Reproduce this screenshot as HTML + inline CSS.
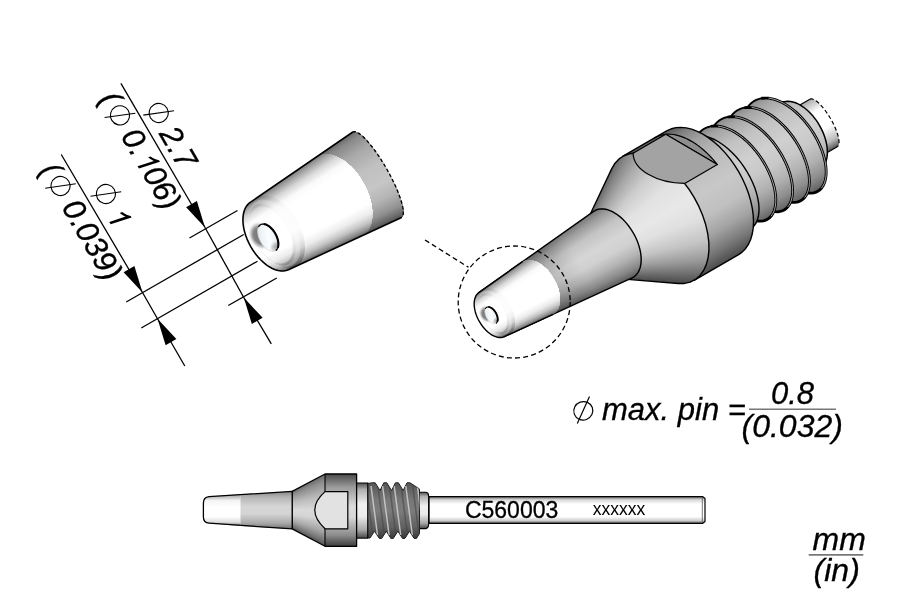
<!DOCTYPE html>
<html><head><meta charset="utf-8"><title>C560003</title>
<style>html,body{margin:0;padding:0;background:#fff;}svg{display:block;}</style>
</head><body>
<svg width="900" height="600" viewBox="0 0 900 600" style="will-change:transform">
<rect width="900" height="600" fill="#fff"/>
<defs>
<linearGradient id="gBody" gradientUnits="userSpaceOnUse" x1="0" y1="-71.5" x2="0" y2="71.5"><stop offset="0" stop-color="#5a5a5a"/><stop offset="0.06" stop-color="#808080"/><stop offset="0.15" stop-color="#a0a0a0"/><stop offset="0.3" stop-color="#bcbcbc"/><stop offset="0.5" stop-color="#c8c8c8"/><stop offset="0.65" stop-color="#c0c0c0"/><stop offset="0.78" stop-color="#a4a4a4"/><stop offset="0.9" stop-color="#787878"/><stop offset="1" stop-color="#4c4c4c"/></linearGradient>
<linearGradient id="gFlare" gradientUnits="userSpaceOnUse" x1="0" y1="-71.5" x2="0" y2="71.5"><stop offset="0" stop-color="#666"/><stop offset="0.06" stop-color="#868686"/><stop offset="0.15" stop-color="#aaa"/><stop offset="0.26" stop-color="#cdcdcd"/><stop offset="0.38" stop-color="#e2e2e2"/><stop offset="0.5" stop-color="#e8e8e8"/><stop offset="0.6" stop-color="#e0e0e0"/><stop offset="0.72" stop-color="#c4c4c4"/><stop offset="0.82" stop-color="#9c9c9c"/><stop offset="0.92" stop-color="#6c6c6c"/><stop offset="1" stop-color="#484848"/></linearGradient>
<linearGradient id="gCone" gradientUnits="userSpaceOnUse" x1="0" y1="-38.5" x2="0" y2="38.5"><stop offset="0" stop-color="#777"/><stop offset="0.1" stop-color="#9c9c9c"/><stop offset="0.25" stop-color="#c4c4c4"/><stop offset="0.45" stop-color="#d6d6d6"/><stop offset="0.6" stop-color="#d0d0d0"/><stop offset="0.75" stop-color="#b4b4b4"/><stop offset="0.9" stop-color="#888"/><stop offset="1" stop-color="#5c5c5c"/></linearGradient>
<linearGradient id="gTipW" gradientUnits="userSpaceOnUse" x1="0" y1="-38.5" x2="0" y2="38.5"><stop offset="0" stop-color="#8a8a8a"/><stop offset="0.2" stop-color="#e0e0e0"/><stop offset="0.35" stop-color="#fff"/><stop offset="0.65" stop-color="#fff"/><stop offset="0.85" stop-color="#cfcfcf"/><stop offset="1" stop-color="#666"/></linearGradient>
<linearGradient id="gThread" gradientUnits="userSpaceOnUse" x1="0" y1="-57.5" x2="0" y2="57.5"><stop offset="0" stop-color="#808080"/><stop offset="0.1" stop-color="#a4a4a4"/><stop offset="0.25" stop-color="#c2c2c2"/><stop offset="0.45" stop-color="#d0d0d0"/><stop offset="0.6" stop-color="#c8c8c8"/><stop offset="0.75" stop-color="#b0b0b0"/><stop offset="0.88" stop-color="#8c8c8c"/><stop offset="1" stop-color="#585858"/></linearGradient>
<linearGradient id="gShaft" gradientUnits="userSpaceOnUse" x1="0" y1="-27.4" x2="0" y2="27.4"><stop offset="0" stop-color="#aaa"/><stop offset="0.25" stop-color="#fff"/><stop offset="0.6" stop-color="#fff"/><stop offset="0.85" stop-color="#bbb"/><stop offset="1" stop-color="#555"/></linearGradient>
<linearGradient id="gBand" gradientUnits="userSpaceOnUse" x1="45" y1="0" x2="100" y2="0"><stop offset="0" stop-color="#000" stop-opacity="0.2"/><stop offset="0.35" stop-color="#000" stop-opacity="0.15"/><stop offset="1" stop-color="#000" stop-opacity="0"/></linearGradient>
<linearGradient id="gDWM" gradientUnits="userSpaceOnUse" x1="0" y1="-32.38" x2="0" y2="32.38"><stop offset="0" stop-color="#7c7c7c"/><stop offset="0.05" stop-color="#a4a4a4"/><stop offset="0.13" stop-color="#d8d8d8"/><stop offset="0.22" stop-color="#fafafa"/><stop offset="0.3" stop-color="#fff"/><stop offset="0.72" stop-color="#fff"/><stop offset="0.82" stop-color="#ececec"/><stop offset="0.9" stop-color="#c4c4c4"/><stop offset="0.96" stop-color="#909090"/><stop offset="1" stop-color="#606060"/></linearGradient>
<linearGradient id="gRingM" gradientUnits="userSpaceOnUse" x1="0" y1="-25.5" x2="0" y2="25.5"><stop offset="0" stop-color="#000" stop-opacity="0.08"/><stop offset="0.25" stop-color="#000" stop-opacity="0.015"/><stop offset="0.6" stop-color="#000" stop-opacity="0.01"/><stop offset="0.82" stop-color="#000" stop-opacity="0.10"/><stop offset="1" stop-color="#000" stop-opacity="0.28"/></linearGradient>
<linearGradient id="gHoleM" x1="0" y1="0" x2="1" y2="0.7"><stop offset="0" stop-color="#d4d7d9"/><stop offset="0.3" stop-color="#eef3f6"/><stop offset="0.6" stop-color="#fbfdfe"/><stop offset="0.85" stop-color="#f0f3f5"/><stop offset="1" stop-color="#d0d3d5"/></linearGradient>
<radialGradient id="gHoleShM" cx="0.5" cy="0.5" r="0.5"><stop offset="0" stop-color="#666" stop-opacity="0.95"/><stop offset="0.6" stop-color="#747474" stop-opacity="0.88"/><stop offset="0.8" stop-color="#999" stop-opacity="0.5"/><stop offset="1" stop-color="#ddd" stop-opacity="0"/></radialGradient>
<radialGradient id="gHoleInM" cx="0.5" cy="0.5" r="0.5"><stop offset="0" stop-color="#777" stop-opacity="0.7"/><stop offset="0.6" stop-color="#999" stop-opacity="0.4"/><stop offset="1" stop-color="#ccc" stop-opacity="0"/></radialGradient>
<linearGradient id="gDWD" gradientUnits="userSpaceOnUse" x1="0" y1="-49.28" x2="0" y2="49.28"><stop offset="0" stop-color="#7c7c7c"/><stop offset="0.05" stop-color="#a4a4a4"/><stop offset="0.13" stop-color="#d8d8d8"/><stop offset="0.22" stop-color="#fafafa"/><stop offset="0.3" stop-color="#fff"/><stop offset="0.72" stop-color="#fff"/><stop offset="0.82" stop-color="#ececec"/><stop offset="0.9" stop-color="#c4c4c4"/><stop offset="0.96" stop-color="#909090"/><stop offset="1" stop-color="#606060"/></linearGradient>
<linearGradient id="gDGD" gradientUnits="userSpaceOnUse" x1="0" y1="-49.28" x2="0" y2="49.28"><stop offset="0" stop-color="#6a6a6a"/><stop offset="0.06" stop-color="#888"/><stop offset="0.2" stop-color="#a8a8a8"/><stop offset="0.4" stop-color="#c0c0c0"/><stop offset="0.6" stop-color="#c6c6c6"/><stop offset="0.75" stop-color="#b4b4b4"/><stop offset="0.88" stop-color="#929292"/><stop offset="0.96" stop-color="#6a6a6a"/><stop offset="1" stop-color="#505050"/></linearGradient>
<linearGradient id="gRingD" gradientUnits="userSpaceOnUse" x1="0" y1="-38.8" x2="0" y2="38.8"><stop offset="0" stop-color="#000" stop-opacity="0.08"/><stop offset="0.25" stop-color="#000" stop-opacity="0.015"/><stop offset="0.6" stop-color="#000" stop-opacity="0.01"/><stop offset="0.82" stop-color="#000" stop-opacity="0.10"/><stop offset="1" stop-color="#000" stop-opacity="0.28"/></linearGradient>
<linearGradient id="gHoleD" x1="0" y1="0" x2="1" y2="0.7"><stop offset="0" stop-color="#d4d7d9"/><stop offset="0.3" stop-color="#eef3f6"/><stop offset="0.6" stop-color="#fbfdfe"/><stop offset="0.85" stop-color="#f0f3f5"/><stop offset="1" stop-color="#d0d3d5"/></linearGradient>
<radialGradient id="gHoleShD" cx="0.5" cy="0.5" r="0.5"><stop offset="0" stop-color="#666" stop-opacity="0.95"/><stop offset="0.6" stop-color="#747474" stop-opacity="0.88"/><stop offset="0.8" stop-color="#999" stop-opacity="0.5"/><stop offset="1" stop-color="#ddd" stop-opacity="0"/></radialGradient>
<radialGradient id="gHoleInD" cx="0.5" cy="0.5" r="0.5"><stop offset="0" stop-color="#777" stop-opacity="0.7"/><stop offset="0.6" stop-color="#999" stop-opacity="0.4"/><stop offset="1" stop-color="#ccc" stop-opacity="0"/></radialGradient>
<linearGradient id="sBody" x1="0" y1="0" x2="0" y2="1"><stop offset="0" stop-color="#4a4a4a"/><stop offset="0.18" stop-color="#9a9a9a"/><stop offset="0.45" stop-color="#dcdcdc"/><stop offset="0.6" stop-color="#d6d6d6"/><stop offset="0.85" stop-color="#8a8a8a"/><stop offset="1" stop-color="#3c3c3c"/></linearGradient>
<linearGradient id="sCone" x1="0" y1="0" x2="0" y2="1"><stop offset="0" stop-color="#858585"/><stop offset="0.15" stop-color="#b4b4b4"/><stop offset="0.4" stop-color="#d6d6d6"/><stop offset="0.6" stop-color="#d4d4d4"/><stop offset="0.85" stop-color="#a8a8a8"/><stop offset="1" stop-color="#707070"/></linearGradient>
<linearGradient id="sNeck" x1="0" y1="0" x2="0" y2="1"><stop offset="0" stop-color="#505050"/><stop offset="0.12" stop-color="#b0b0b0"/><stop offset="0.38" stop-color="#f0f0f0"/><stop offset="0.6" stop-color="#ececec"/><stop offset="0.85" stop-color="#a8a8a8"/><stop offset="1" stop-color="#444"/></linearGradient>
<linearGradient id="sWhite" x1="0" y1="0" x2="0" y2="1"><stop offset="0" stop-color="#999"/><stop offset="0.2" stop-color="#f4f4f4"/><stop offset="0.4" stop-color="#fff"/><stop offset="0.7" stop-color="#fff"/><stop offset="0.88" stop-color="#ddd"/><stop offset="1" stop-color="#777"/></linearGradient>
<linearGradient id="sShaft" x1="0" y1="0" x2="0" y2="1"><stop offset="0" stop-color="#666"/><stop offset="0.12" stop-color="#d8d8d8"/><stop offset="0.28" stop-color="#fff"/><stop offset="0.75" stop-color="#fff"/><stop offset="0.9" stop-color="#ccc"/><stop offset="1" stop-color="#555"/></linearGradient>
<linearGradient id="sThread" x1="0" y1="0" x2="0" y2="1"><stop offset="0" stop-color="#555"/><stop offset="0.3" stop-color="#777"/><stop offset="0.5" stop-color="#7c7c7c"/><stop offset="0.8" stop-color="#606060"/><stop offset="1" stop-color="#3a3a3a"/></linearGradient>
<linearGradient id="sFl" gradientUnits="userSpaceOnUse" x1="0" y1="-36.2" x2="0" y2="36.2"><stop offset="0" stop-color="#6a6a6a"/><stop offset="0.1" stop-color="#8e8e8e"/><stop offset="0.3" stop-color="#bcbcbc"/><stop offset="0.5" stop-color="#dadada"/><stop offset="0.62" stop-color="#d4d4d4"/><stop offset="0.8" stop-color="#a6a6a6"/><stop offset="0.92" stop-color="#787878"/><stop offset="1" stop-color="#505050"/></linearGradient>
</defs>
<g transform="translate(493.1 313.75) rotate(-30)"><path d="M381.6 -27.4 L382.52 -27.23 L383.43 -26.71 L384.31 -25.86 L385.17 -24.69 L385.97 -23.2 L386.73 -21.42 L387.41 -19.37 L388.03 -17.08 L388.56 -14.58 L389.01 -11.89 L389.36 -9.05 L389.61 -6.1 L389.77 -3.07 L389.82 -0 L389.77 3.07 L389.61 6.1 L389.36 9.05 L389.01 11.89 L388.56 14.58 L388.03 17.08 L387.41 19.37 L386.73 21.42 L385.97 23.2 L385.17 24.69 L384.31 25.86 L383.43 26.71 L382.52 27.23 L381.6 27.4 L354.5 27.4 L352.72 27.23 L350.96 26.71 L349.25 25.86 L347.6 24.69 L346.04 23.2 L344.59 21.42 L343.26 19.37 L342.08 17.08 L341.04 14.58 L340.18 11.89 L339.5 9.05 L339.01 6.1 L338.71 3.07 L338.61 0 L338.71 -3.07 L339.01 -6.1 L339.5 -9.05 L340.18 -11.89 L341.04 -14.58 L342.08 -17.08 L343.26 -19.37 L344.59 -21.42 L346.04 -23.2 L347.6 -24.69 L349.25 -25.86 L350.96 -26.71 L352.72 -27.23 L354.5 -27.4Z" fill="url(#gShaft)"/><path d="M354.5 -27.4 L381.6 -27.4 M354.5 27.4 L381.6 27.4" fill="none" stroke="#000" stroke-width="1.2"/><path d="M381.6 -27.4 L382.52 -27.23 L383.43 -26.71 L384.31 -25.86 L385.17 -24.69 L385.97 -23.2 L386.73 -21.42 L387.41 -19.37 L388.03 -17.08 L388.56 -14.58 L389.01 -11.89 L389.36 -9.05 L389.61 -6.1 L389.77 -3.07 L389.82 -0 L389.77 3.07 L389.61 6.1 L389.36 9.05 L389.01 11.89 L388.56 14.58 L388.03 17.08 L387.41 19.37 L386.73 21.42 L385.97 23.2 L385.17 24.69 L384.31 25.86 L383.43 26.71 L382.52 27.23 L381.6 27.4" fill="none" stroke="#000" stroke-width="1.2" stroke-dasharray="4 2.5"/><path d="M359.55 -37.5 L361.61 -36.5 L363.61 -35.15 L365.52 -33.49 L367.33 -31.52 L369.02 -29.25 L370.57 -26.72 L371.98 -23.95 L373.23 -20.95 L374.31 -17.76 L375.21 -14.41 L375.91 -10.92 L376.42 -7.34 L376.73 -3.69 L376.83 -0 L376.73 3.69 L376.42 7.34 L375.91 10.92 L375.21 14.41 L374.31 17.76 L373.23 20.95 L371.98 23.95 L370.57 26.72 L369.02 29.25 L367.33 31.52 L365.52 33.49 L363.61 35.15 L361.61 36.5 L359.55 37.5 L346.17 42.86 L342.94 43.78 L339.67 43.98 L336.4 43.46 L333.21 42.22 L330.13 40.28 L327.22 37.68 L324.53 34.45 L322.1 30.66 L319.97 26.36 L318.18 21.63 L316.75 16.55 L315.72 11.18 L315.09 5.64 L314.88 0 L315.09 -5.64 L315.72 -11.18 L316.75 -16.55 L318.18 -21.63 L319.97 -26.36 L322.1 -30.66 L324.53 -34.45 L327.22 -37.68 L330.13 -40.28 L333.21 -42.22 L336.4 -43.46 L339.67 -43.98 L342.94 -43.78 L346.17 -42.86Z" fill="url(#gThread)" stroke="none" /><path d="M346.17 -42.86 L359.55 -37.5 M359.55 37.5 L346.17 42.86 M359.55 -37.5 L361.61 -36.5 L363.61 -35.15 L365.52 -33.49 L367.33 -31.52 L369.02 -29.25 L370.57 -26.72 L371.98 -23.95 L373.23 -20.95 L374.31 -17.76 L375.21 -14.41 L375.91 -10.92 L376.42 -7.34 L376.73 -3.69 L376.83 -0 L376.73 3.69 L376.42 7.34 L375.91 10.92 L375.21 14.41 L374.31 17.76 L373.23 20.95 L371.98 23.95 L370.57 26.72 L369.02 29.25 L367.33 31.52 L365.52 33.49 L363.61 35.15 L361.61 36.5 L359.55 37.5" fill="none" stroke="#000" stroke-width="1.5" stroke-linecap="round" stroke-linejoin="round"/><path d="M311.38 -40.85 L314.46 -44.58 L317.74 -47.73 L321.2 -50.24 L324.8 -52.09 L328.48 -53.25 L332.22 -53.71 L335.97 -53.47 L339.68 -52.52 L343.31 -50.88 L346.81 -48.57 L350.15 -45.62 L353.3 -42.06 L356.2 -37.95 L358.83 -33.33 L361.17 -28.27 L363.18 -22.83 L364.84 -17.08 L366.14 -11.09 L367.06 -4.95 L367.6 1.28 L367.75 7.51 L367.52 13.65 L366.92 19.64 L365.95 25.39 L364.64 30.83 L362.99 35.89 L361.05 40.51 L358.84 44.62 L356.39 48.18 L353.75 51.13 L350.93 53.44 L348 55.08 L344.98 56.03 L341.93 56.27 L338.88 55.81 L335.89 54.65 L332.99 52.8 L330.22 50.29 L327.63 47.14 L325.25 43.41 L306.05 43.09 L308.43 46.82 L311.02 49.97 L313.79 52.48 L316.69 54.33 L319.68 55.49 L322.73 55.95 L325.78 55.71 L328.8 54.76 L331.73 53.12 L334.55 50.81 L337.19 47.86 L339.64 44.3 L341.85 40.19 L343.79 35.57 L345.44 30.51 L346.75 25.07 L347.72 19.32 L348.32 13.33 L348.55 7.19 L348.4 0.96 L347.86 -5.27 L346.94 -11.41 L345.64 -17.4 L343.98 -23.15 L341.97 -28.59 L339.63 -33.65 L337 -38.27 L334.1 -42.38 L330.95 -45.94 L327.61 -48.89 L324.11 -51.2 L320.48 -52.84 L316.77 -53.79 L313.02 -54.03 L309.28 -53.57 L305.6 -52.41 L302 -50.56 L298.54 -48.05 L295.26 -44.9 L292.18 -41.17Z" fill="url(#gThread)"/><path d="M311.38 -40.85 L312.02 -41.7 L312.68 -42.53 L313.34 -43.33 L314.02 -44.1 L314.7 -44.85 L315.4 -45.56 L316.1 -46.26 L316.81 -46.92 L317.53 -47.55 L318.26 -48.15 L319 -48.73 L319.74 -49.27 L320.5 -49.79 L321.25 -50.27 L322.02 -50.72 L322.79 -51.15 L323.57 -51.54 L324.35 -51.9 L325.13 -52.22 L325.92 -52.52 L326.72 -52.78 L327.51 -53.01 L328.31 -53.21 L329.11 -53.38 L329.92 -53.51 L330.72 -53.61 L331.53 -53.68 L332.34 -53.71 L333.15 -53.72 L333.95 -53.69 L334.76 -53.62 L335.57 -53.53 L336.37 -53.4 L337.17 -53.24 L337.97 -53.04 L338.77 -52.82 L339.56 -52.56 L340.35 -52.27 L341.14 -51.94 L341.92 -51.59" fill="none" stroke="#000" stroke-width="1.9" stroke-linecap="round"/><path d="M340.8 -52.09 L343.58 -50.72 L346.28 -48.97 L348.89 -46.82 L351.39 -44.32 L353.76 -41.46 L355.99 -38.28 L358.05 -34.8 L359.95 -31.05 L361.66 -27.05 L363.18 -22.83 L364.49 -18.43 L365.58 -13.88 L366.46 -9.21 L367.12 -4.47 L367.54 0.32 L367.74 5.12 L367.71 9.88 L367.46 14.59 L366.98 19.19 L366.29 23.65 L365.39 27.94 L364.28 32.04 L362.99 35.89 L361.53 39.49 L359.9 42.79 L358.11 45.78 L356.2 48.42 L354.16 50.71 L352.03 52.63 L349.82 54.15 L347.54 55.27 L345.22 55.98 L342.87 56.27 L340.52 56.15 L338.19 55.6 L335.89 54.65 L333.65 53.28 L331.48 51.53 L329.4 49.38 L327.44 46.88" fill="none" stroke="#000" stroke-width="2.8" stroke-linecap="round"/><path d="M346.28 -48.97 L348.2 -47.44 L350.05 -45.72 L351.85 -43.8 L353.58 -41.7 L355.22 -39.43 L356.79 -37 L358.27 -34.4 L359.66 -31.67 L360.95 -28.8 L362.14 -25.8 L363.22 -22.7 L364.19 -19.5 L365.05 -16.22 L365.8 -12.86 L366.42 -9.45 L366.93 -5.99 L367.32 -2.51 L367.58 0.99 L367.73 4.49 L367.75 7.98 L367.65 11.44 L367.43 14.86 L367.1 18.23 L366.65 21.53 L366.08 24.74 L365.41 27.86 L364.62 30.87 L363.74 33.76 L362.76 36.52 L361.68 39.14 L360.52 41.6 L359.27 43.9 L357.95 46.03 L356.55 47.97 L355.09 49.73 L353.58 51.29 L352.01 52.64 L350.4 53.79 L348.75 54.73 L347.08 55.44" fill="none" stroke="#c4c4c4" stroke-width="0.75"/><path d="M292.18 -41.17 L295.26 -44.9 L298.54 -48.05 L302 -50.56 L305.6 -52.41 L309.28 -53.57 L313.02 -54.03 L316.77 -53.79 L320.48 -52.84 L324.11 -51.2 L327.61 -48.89 L330.95 -45.94 L334.1 -42.38 L337 -38.27 L339.63 -33.65 L341.97 -28.59 L343.98 -23.15 L345.64 -17.4 L346.94 -11.41 L347.86 -5.27 L348.4 0.96 L348.55 7.19 L348.32 13.33 L347.72 19.32 L346.75 25.07 L345.44 30.51 L343.79 35.57 L341.85 40.19 L339.64 44.3 L337.19 47.86 L334.55 50.81 L331.73 53.12 L328.8 54.76 L325.78 55.71 L322.73 55.95 L319.68 55.49 L316.69 54.33 L313.79 52.48 L311.02 49.97 L308.43 46.82 L306.05 43.09 L286.85 42.77 L289.23 46.5 L291.82 49.65 L294.59 52.16 L297.49 54.01 L300.48 55.17 L303.53 55.63 L306.58 55.39 L309.6 54.44 L312.53 52.8 L315.35 50.49 L317.99 47.54 L320.44 43.98 L322.65 39.87 L324.59 35.25 L326.24 30.19 L327.55 24.75 L328.52 19 L329.12 13.01 L329.35 6.87 L329.2 0.64 L328.66 -5.59 L327.74 -11.73 L326.44 -17.72 L324.78 -23.47 L322.77 -28.91 L320.43 -33.97 L317.8 -38.59 L314.9 -42.7 L311.75 -46.26 L308.41 -49.21 L304.91 -51.52 L301.28 -53.16 L297.57 -54.11 L293.82 -54.35 L290.08 -53.89 L286.4 -52.73 L282.8 -50.88 L279.34 -48.37 L276.06 -45.22 L272.98 -41.49Z" fill="url(#gThread)"/><path d="M292.18 -41.17 L292.82 -42.02 L293.48 -42.85 L294.14 -43.65 L294.82 -44.42 L295.5 -45.17 L296.2 -45.88 L296.9 -46.58 L297.61 -47.24 L298.33 -47.87 L299.06 -48.47 L299.8 -49.05 L300.54 -49.59 L301.3 -50.11 L302.05 -50.59 L302.82 -51.04 L303.59 -51.47 L304.37 -51.86 L305.15 -52.22 L305.93 -52.54 L306.72 -52.84 L307.52 -53.1 L308.31 -53.33 L309.11 -53.53 L309.91 -53.7 L310.72 -53.83 L311.52 -53.93 L312.33 -54 L313.14 -54.03 L313.95 -54.04 L314.75 -54.01 L315.56 -53.94 L316.37 -53.85 L317.17 -53.72 L317.97 -53.56 L318.77 -53.36 L319.57 -53.14 L320.36 -52.88 L321.15 -52.59 L321.94 -52.26 L322.72 -51.91" fill="none" stroke="#000" stroke-width="1.9" stroke-linecap="round"/><path d="M321.6 -52.41 L324.38 -51.04 L327.08 -49.29 L329.69 -47.14 L332.19 -44.64 L334.56 -41.78 L336.79 -38.6 L338.85 -35.12 L340.75 -31.37 L342.46 -27.37 L343.98 -23.15 L345.29 -18.75 L346.38 -14.2 L347.26 -9.53 L347.92 -4.79 L348.34 0 L348.54 4.8 L348.51 9.56 L348.26 14.27 L347.78 18.87 L347.09 23.33 L346.19 27.62 L345.08 31.72 L343.79 35.57 L342.33 39.17 L340.7 42.47 L338.91 45.46 L337 48.1 L334.96 50.39 L332.83 52.31 L330.62 53.83 L328.34 54.95 L326.02 55.66 L323.67 55.95 L321.32 55.83 L318.99 55.28 L316.69 54.33 L314.45 52.96 L312.28 51.21 L310.2 49.06 L308.24 46.56" fill="none" stroke="#000" stroke-width="2.8" stroke-linecap="round"/><path d="M327.08 -49.29 L329 -47.76 L330.85 -46.04 L332.65 -44.12 L334.38 -42.02 L336.02 -39.75 L337.59 -37.32 L339.07 -34.72 L340.46 -31.99 L341.75 -29.12 L342.94 -26.12 L344.02 -23.02 L344.99 -19.82 L345.85 -16.54 L346.6 -13.18 L347.22 -9.77 L347.73 -6.31 L348.12 -2.83 L348.38 0.67 L348.53 4.17 L348.55 7.66 L348.45 11.12 L348.23 14.54 L347.9 17.91 L347.45 21.21 L346.88 24.42 L346.21 27.54 L345.42 30.55 L344.54 33.44 L343.56 36.2 L342.48 38.82 L341.32 41.28 L340.07 43.58 L338.75 45.71 L337.35 47.65 L335.89 49.41 L334.38 50.97 L332.81 52.32 L331.2 53.47 L329.55 54.41 L327.88 55.12" fill="none" stroke="#c4c4c4" stroke-width="0.75"/><path d="M272.98 -41.49 L276.06 -45.22 L279.34 -48.37 L282.8 -50.88 L286.4 -52.73 L290.08 -53.89 L293.82 -54.35 L297.57 -54.11 L301.28 -53.16 L304.91 -51.52 L308.41 -49.21 L311.75 -46.26 L314.9 -42.7 L317.8 -38.59 L320.43 -33.97 L322.77 -28.91 L324.78 -23.47 L326.44 -17.72 L327.74 -11.73 L328.66 -5.59 L329.2 0.64 L329.35 6.87 L329.12 13.01 L328.52 19 L327.55 24.75 L326.24 30.19 L324.59 35.25 L322.65 39.87 L320.44 43.98 L317.99 47.54 L315.35 50.49 L312.53 52.8 L309.6 54.44 L306.58 55.39 L303.53 55.63 L300.48 55.17 L297.49 54.01 L294.59 52.16 L291.82 49.65 L289.23 46.5 L286.85 42.77 L267.65 42.45 L270.03 46.18 L272.62 49.33 L275.39 51.84 L278.29 53.69 L281.28 54.85 L284.33 55.31 L287.38 55.07 L290.4 54.12 L293.33 52.48 L296.15 50.17 L298.79 47.22 L301.24 43.66 L303.45 39.55 L305.39 34.93 L307.04 29.87 L308.35 24.43 L309.32 18.68 L309.92 12.69 L310.15 6.55 L310 0.32 L309.46 -5.91 L308.54 -12.05 L307.24 -18.04 L305.58 -23.79 L303.57 -29.23 L301.23 -34.29 L298.6 -38.91 L295.7 -43.02 L292.55 -46.58 L289.21 -49.53 L285.71 -51.84 L282.08 -53.48 L278.37 -54.43 L274.62 -54.67 L270.88 -54.21 L267.2 -53.05 L263.6 -51.2 L260.14 -48.69 L256.86 -45.54 L253.78 -41.81Z" fill="url(#gThread)"/><path d="M272.98 -41.49 L273.62 -42.34 L274.28 -43.17 L274.94 -43.97 L275.62 -44.74 L276.3 -45.49 L277 -46.2 L277.7 -46.9 L278.41 -47.56 L279.13 -48.19 L279.86 -48.79 L280.6 -49.37 L281.34 -49.91 L282.1 -50.43 L282.85 -50.91 L283.62 -51.36 L284.39 -51.79 L285.17 -52.18 L285.95 -52.54 L286.73 -52.86 L287.52 -53.16 L288.32 -53.42 L289.11 -53.65 L289.91 -53.85 L290.71 -54.02 L291.52 -54.15 L292.32 -54.25 L293.13 -54.32 L293.94 -54.35 L294.75 -54.36 L295.55 -54.33 L296.36 -54.26 L297.17 -54.17 L297.97 -54.04 L298.77 -53.88 L299.57 -53.68 L300.37 -53.46 L301.16 -53.2 L301.95 -52.91 L302.74 -52.58 L303.52 -52.23" fill="none" stroke="#000" stroke-width="1.9" stroke-linecap="round"/><path d="M302.4 -52.73 L305.18 -51.36 L307.88 -49.61 L310.49 -47.46 L312.99 -44.96 L315.36 -42.1 L317.59 -38.92 L319.65 -35.44 L321.55 -31.69 L323.26 -27.69 L324.78 -23.47 L326.09 -19.07 L327.18 -14.52 L328.06 -9.85 L328.72 -5.11 L329.14 -0.32 L329.34 4.48 L329.31 9.24 L329.06 13.95 L328.58 18.55 L327.89 23.01 L326.99 27.3 L325.88 31.4 L324.59 35.25 L323.13 38.85 L321.5 42.15 L319.71 45.14 L317.8 47.78 L315.76 50.07 L313.63 51.99 L311.42 53.51 L309.14 54.63 L306.82 55.34 L304.47 55.63 L302.12 55.51 L299.79 54.96 L297.49 54.01 L295.25 52.64 L293.08 50.89 L291 48.74 L289.04 46.24" fill="none" stroke="#000" stroke-width="2.8" stroke-linecap="round"/><path d="M307.88 -49.61 L309.8 -48.08 L311.65 -46.36 L313.45 -44.44 L315.18 -42.34 L316.82 -40.07 L318.39 -37.64 L319.87 -35.04 L321.26 -32.31 L322.55 -29.44 L323.74 -26.44 L324.82 -23.34 L325.79 -20.14 L326.65 -16.86 L327.4 -13.5 L328.02 -10.09 L328.53 -6.63 L328.92 -3.15 L329.18 0.35 L329.33 3.85 L329.35 7.34 L329.25 10.8 L329.03 14.22 L328.7 17.59 L328.25 20.89 L327.68 24.1 L327.01 27.22 L326.22 30.23 L325.34 33.12 L324.36 35.88 L323.28 38.5 L322.12 40.96 L320.87 43.26 L319.55 45.39 L318.15 47.33 L316.69 49.09 L315.18 50.65 L313.61 52 L312 53.15 L310.35 54.09 L308.68 54.8" fill="none" stroke="#c4c4c4" stroke-width="0.75"/><path d="M253.78 -41.81 L256.86 -45.54 L260.14 -48.69 L263.6 -51.2 L267.2 -53.05 L270.88 -54.21 L274.62 -54.67 L278.37 -54.43 L282.08 -53.48 L285.71 -51.84 L289.21 -49.53 L292.55 -46.58 L295.7 -43.02 L298.6 -38.91 L301.23 -34.29 L303.57 -29.23 L305.58 -23.79 L307.24 -18.04 L308.54 -12.05 L309.46 -5.91 L310 0.32 L310.15 6.55 L309.92 12.69 L309.32 18.68 L308.35 24.43 L307.04 29.87 L305.39 34.93 L303.45 39.55 L301.24 43.66 L298.79 47.22 L296.15 50.17 L293.33 52.48 L290.4 54.12 L287.38 55.07 L284.33 55.31 L281.28 54.85 L278.29 53.69 L275.39 51.84 L272.62 49.33 L270.03 46.18 L267.65 42.45 L248.45 42.13 L250.83 45.86 L253.42 49.01 L256.19 51.52 L259.09 53.37 L262.08 54.53 L265.13 54.99 L268.18 54.75 L271.2 53.8 L274.13 52.16 L276.95 49.85 L279.59 46.9 L282.04 43.34 L284.25 39.23 L286.19 34.61 L287.84 29.55 L289.15 24.11 L290.12 18.36 L290.72 12.37 L290.95 6.23 L290.8 -0 L290.26 -6.23 L289.34 -12.37 L288.04 -18.36 L286.38 -24.11 L284.37 -29.55 L282.03 -34.61 L279.4 -39.23 L276.5 -43.34 L273.35 -46.9 L270.01 -49.85 L266.51 -52.16 L262.88 -53.8 L259.17 -54.75 L255.42 -54.99 L251.68 -54.53 L248 -53.37 L244.4 -51.52 L240.94 -49.01 L237.66 -45.86 L234.58 -42.13Z" fill="url(#gThread)"/><path d="M253.78 -41.81 L254.42 -42.66 L255.08 -43.49 L255.74 -44.29 L256.42 -45.06 L257.1 -45.81 L257.8 -46.52 L258.5 -47.22 L259.21 -47.88 L259.93 -48.51 L260.66 -49.11 L261.4 -49.69 L262.14 -50.23 L262.9 -50.75 L263.65 -51.23 L264.42 -51.68 L265.19 -52.11 L265.97 -52.5 L266.75 -52.86 L267.53 -53.18 L268.32 -53.48 L269.12 -53.74 L269.91 -53.97 L270.71 -54.17 L271.51 -54.34 L272.32 -54.47 L273.12 -54.57 L273.93 -54.64 L274.74 -54.67 L275.55 -54.68 L276.35 -54.65 L277.16 -54.58 L277.97 -54.49 L278.77 -54.36 L279.57 -54.2 L280.37 -54 L281.17 -53.78 L281.96 -53.52 L282.75 -53.23 L283.54 -52.9 L284.32 -52.55" fill="none" stroke="#000" stroke-width="1.9" stroke-linecap="round"/><path d="M283.2 -53.05 L285.98 -51.68 L288.68 -49.93 L291.29 -47.78 L293.79 -45.28 L296.16 -42.42 L298.39 -39.24 L300.45 -35.76 L302.35 -32.01 L304.06 -28.01 L305.58 -23.79 L306.89 -19.39 L307.98 -14.84 L308.86 -10.17 L309.52 -5.43 L309.94 -0.64 L310.14 4.16 L310.11 8.92 L309.86 13.63 L309.38 18.23 L308.69 22.69 L307.79 26.98 L306.68 31.08 L305.39 34.93 L303.93 38.53 L302.3 41.83 L300.51 44.82 L298.6 47.46 L296.56 49.75 L294.43 51.67 L292.22 53.19 L289.94 54.31 L287.62 55.02 L285.27 55.31 L282.92 55.19 L280.59 54.64 L278.29 53.69 L276.05 52.32 L273.88 50.57 L271.8 48.42 L269.84 45.92" fill="none" stroke="#000" stroke-width="2.8" stroke-linecap="round"/><path d="M288.68 -49.93 L290.6 -48.4 L292.45 -46.68 L294.25 -44.76 L295.98 -42.66 L297.62 -40.39 L299.19 -37.96 L300.67 -35.36 L302.06 -32.63 L303.35 -29.76 L304.54 -26.76 L305.62 -23.66 L306.59 -20.46 L307.45 -17.18 L308.2 -13.82 L308.82 -10.41 L309.33 -6.95 L309.72 -3.47 L309.98 0.03 L310.13 3.53 L310.15 7.02 L310.05 10.48 L309.83 13.9 L309.5 17.27 L309.05 20.57 L308.48 23.78 L307.81 26.9 L307.02 29.91 L306.14 32.8 L305.16 35.56 L304.08 38.18 L302.92 40.64 L301.67 42.94 L300.35 45.07 L298.95 47.01 L297.49 48.77 L295.98 50.33 L294.41 51.68 L292.8 52.83 L291.15 53.77 L289.48 54.48" fill="none" stroke="#c4c4c4" stroke-width="0.75"/><path d="M234.58 -42.13 L237.66 -45.86 L240.94 -49.01 L244.4 -51.52 L248 -53.37 L251.68 -54.53 L255.42 -54.99 L259.17 -54.75 L262.88 -53.8 L266.51 -52.16 L270.01 -49.85 L273.35 -46.9 L276.5 -43.34 L279.4 -39.23 L282.03 -34.61 L284.37 -29.55 L286.38 -24.11 L288.04 -18.36 L289.34 -12.37 L290.26 -6.23 L290.8 -0 L290.95 6.23 L290.72 12.37 L290.12 18.36 L289.15 24.11 L287.84 29.55 L286.19 34.61 L284.25 39.23 L282.04 43.34 L279.59 46.9 L276.95 49.85 L274.13 52.16 L271.2 53.8 L268.18 54.75 L265.13 54.99 L262.08 54.53 L259.09 53.37 L256.19 51.52 L253.42 49.01 L250.83 45.86 L248.45 42.13 L229.25 42.13 L231.63 45.86 L234.22 49.01 L236.99 51.52 L239.89 53.37 L242.88 54.53 L245.93 54.99 L248.98 54.75 L252 53.8 L254.93 52.16 L257.75 49.85 L260.39 46.9 L262.84 43.34 L265.05 39.23 L266.99 34.61 L268.64 29.55 L269.95 24.11 L270.92 18.36 L271.52 12.37 L271.75 6.23 L271.6 -0 L271.06 -6.23 L270.14 -12.37 L268.84 -18.36 L267.18 -24.11 L265.17 -29.55 L262.83 -34.61 L260.2 -39.23 L257.3 -43.34 L254.15 -46.9 L250.81 -49.85 L247.31 -52.16 L243.68 -53.8 L239.97 -54.75 L236.22 -54.99 L232.48 -54.53 L228.8 -53.37 L225.2 -51.52 L221.74 -49.01 L218.46 -45.86 L215.38 -42.13Z" fill="url(#gThread)"/><path d="M234.58 -42.13 L237.59 -45.8 L240.81 -48.9 L244.2 -51.39 L247.72 -53.25 L251.33 -54.45 L254.99 -54.97 L258.67 -54.82 L262.31 -53.99 L265.89 -52.49 L269.35 -50.34 L272.66 -47.57 L275.79 -44.21 L278.7 -40.31 L281.35 -35.9 L283.73 -31.05 L285.8 -25.82 L287.54 -20.27 L288.93 -14.47 L289.97 -8.49 L290.64 -2.4 L290.94 3.72 L290.87 9.79 L290.43 15.74 L289.64 21.49 L288.51 26.98 L287.05 32.13 L285.3 36.89 L283.27 41.19 L280.99 44.98 L278.5 48.22 L275.83 50.86 L273.02 52.87 L270.1 54.23 L267.13 54.91 L264.13 54.92 L261.16 54.25 L258.24 52.9 L255.43 50.9 L252.75 48.28 L250.26 45.05" fill="none" stroke="#000" stroke-width="1.4" stroke-linecap="round"/><path d="M242.2 -71.5 L246.84 -71.05 L251.43 -69.71 L255.9 -67.49 L260.19 -64.42 L264.26 -60.54 L268.06 -55.9 L271.52 -50.56 L274.62 -44.58 L277.31 -38.04 L279.56 -31.02 L281.34 -23.61 L282.63 -15.91 L283.41 -8.01 L283.67 -0 L283.41 8.01 L282.63 15.91 L281.34 23.61 L279.56 31.02 L277.31 38.04 L274.62 44.58 L271.52 50.56 L268.06 55.9 L264.26 60.54 L260.19 64.42 L255.9 67.49 L251.43 69.71 L246.84 71.05 L242.2 71.5 L190.8 71.5 L186.16 71.05 L181.57 69.71 L177.1 67.49 L172.81 64.42 L168.74 60.54 L164.94 55.9 L161.48 50.56 L158.38 44.58 L155.69 38.04 L153.44 31.02 L151.66 23.61 L150.37 15.91 L149.59 8.01 L149.33 0 L149.59 -8.01 L150.37 -15.91 L151.66 -23.61 L153.44 -31.02 L155.69 -38.04 L158.38 -44.58 L161.48 -50.56 L164.94 -55.9 L168.74 -60.54 L172.81 -64.42 L177.1 -67.49 L181.57 -69.71 L186.16 -71.05 L190.8 -71.5Z" fill="url(#gBody)" stroke="none" /><path d="M190.8 -71.5 L242.2 -71.5 M242.2 71.5 L190.8 71.5 M242.2 -71.5 L246.84 -71.05 L251.43 -69.71 L255.9 -67.49 L260.19 -64.42 L264.26 -60.54 L268.06 -55.9 L271.52 -50.56 L274.62 -44.58 L277.31 -38.04 L279.56 -31.02 L281.34 -23.61 L282.63 -15.91 L283.41 -8.01 L283.67 -0 L283.41 8.01 L282.63 15.91 L281.34 23.61 L279.56 31.02 L277.31 38.04 L274.62 44.58 L271.52 50.56 L268.06 55.9 L264.26 60.54 L260.19 64.42 L255.9 67.49 L251.43 69.71 L246.84 71.05 L242.2 71.5" fill="none" stroke="#000" stroke-width="1.4" stroke-linecap="round" stroke-linejoin="round"/><clipPath id="cf1"><path d="M175.33 -66.34 L180.83 -69.4 L186.52 -71.12 L192.3 -71.45 L198.05 -70.4 L203.66 -67.98 L209.01 -64.23 L214.02 -59.24 L218.57 -53.1 L222.58 -45.93 L225.98 -37.86 L228.69 -29.06 L230.67 -19.69 L231.87 -9.94 L232.27 0 L231.87 9.94 L230.67 19.69 L228.69 29.06 L225.98 37.86 L222.58 45.93 L218.57 53.1 L214.02 59.24 L209.01 64.23 L203.66 67.98 L198.05 70.4 L192.3 71.45 L186.52 71.12 L180.83 69.4 L175.33 66.34 L131.17 35.72 L129.44 34.37 L127.79 32.78 L126.22 30.95 L124.74 28.9 L123.38 26.63 L122.12 24.18 L121 21.55 L120 18.77 L119.15 15.85 L118.44 12.82 L117.89 9.7 L117.49 6.51 L117.25 3.26 L117.17 0 L117.25 -3.26 L117.49 -6.51 L117.89 -9.7 L118.44 -12.82 L119.15 -15.85 L120 -18.77 L121 -21.55 L122.12 -24.18 L123.38 -26.63 L124.74 -28.9 L126.22 -30.95 L127.79 -32.78 L129.44 -34.37 L131.17 -35.72Z"/></clipPath><g clip-path="url(#cf1)"><rect x="116.17" y="-71.5" width="117.1" height="143" fill="url(#gFlare)" transform="scale(1 0.3638)"/><rect x="118.17" y="-71.5" width="115.1" height="143" fill="url(#gFlare)" transform="scale(1 0.3832)"/><rect x="120.17" y="-71.5" width="113.1" height="143" fill="url(#gFlare)" transform="scale(1 0.4026)"/><rect x="122.17" y="-71.5" width="111.1" height="143" fill="url(#gFlare)" transform="scale(1 0.4220)"/><rect x="124.17" y="-71.5" width="109.1" height="143" fill="url(#gFlare)" transform="scale(1 0.4414)"/><rect x="126.17" y="-71.5" width="107.1" height="143" fill="url(#gFlare)" transform="scale(1 0.4608)"/><rect x="128.17" y="-71.5" width="105.1" height="143" fill="url(#gFlare)" transform="scale(1 0.4802)"/><rect x="130.17" y="-71.5" width="103.1" height="143" fill="url(#gFlare)" transform="scale(1 0.4996)"/><rect x="132.17" y="-71.5" width="101.1" height="143" fill="url(#gFlare)" transform="scale(1 0.5190)"/><rect x="134.17" y="-71.5" width="99.1" height="143" fill="url(#gFlare)" transform="scale(1 0.5384)"/><rect x="136.17" y="-71.5" width="97.1" height="143" fill="url(#gFlare)" transform="scale(1 0.5578)"/><rect x="138.17" y="-71.5" width="95.1" height="143" fill="url(#gFlare)" transform="scale(1 0.5772)"/><rect x="140.17" y="-71.5" width="93.1" height="143" fill="url(#gFlare)" transform="scale(1 0.5966)"/><rect x="142.17" y="-71.5" width="91.1" height="143" fill="url(#gFlare)" transform="scale(1 0.6160)"/><rect x="144.17" y="-71.5" width="89.1" height="143" fill="url(#gFlare)" transform="scale(1 0.6354)"/><rect x="146.17" y="-71.5" width="87.1" height="143" fill="url(#gFlare)" transform="scale(1 0.6547)"/><rect x="148.17" y="-71.5" width="85.1" height="143" fill="url(#gFlare)" transform="scale(1 0.6741)"/><rect x="150.17" y="-71.5" width="83.1" height="143" fill="url(#gFlare)" transform="scale(1 0.6935)"/><rect x="152.17" y="-71.5" width="81.1" height="143" fill="url(#gFlare)" transform="scale(1 0.7129)"/><rect x="154.17" y="-71.5" width="79.1" height="143" fill="url(#gFlare)" transform="scale(1 0.7323)"/><rect x="156.17" y="-71.5" width="77.1" height="143" fill="url(#gFlare)" transform="scale(1 0.7517)"/><rect x="158.17" y="-71.5" width="75.1" height="143" fill="url(#gFlare)" transform="scale(1 0.7711)"/><rect x="160.17" y="-71.5" width="73.1" height="143" fill="url(#gFlare)" transform="scale(1 0.7905)"/><rect x="162.17" y="-71.5" width="71.1" height="143" fill="url(#gFlare)" transform="scale(1 0.8099)"/><rect x="164.17" y="-71.5" width="69.1" height="143" fill="url(#gFlare)" transform="scale(1 0.8293)"/><rect x="166.17" y="-71.5" width="67.1" height="143" fill="url(#gFlare)" transform="scale(1 0.8487)"/><rect x="168.17" y="-71.5" width="65.1" height="143" fill="url(#gFlare)" transform="scale(1 0.8681)"/><rect x="170.17" y="-71.5" width="63.1" height="143" fill="url(#gFlare)" transform="scale(1 0.8875)"/><rect x="172.17" y="-71.5" width="61.1" height="143" fill="url(#gFlare)" transform="scale(1 0.9069)"/><rect x="174.17" y="-71.5" width="59.1" height="143" fill="url(#gFlare)" transform="scale(1 0.9263)"/><rect x="176.17" y="-71.5" width="57.1" height="143" fill="url(#gFlare)" transform="scale(1 0.9457)"/><rect x="178.17" y="-71.5" width="55.1" height="143" fill="url(#gFlare)" transform="scale(1 0.9651)"/><rect x="180.17" y="-71.5" width="53.1" height="143" fill="url(#gFlare)" transform="scale(1 0.9844)"/><rect x="182.17" y="-71.5" width="51.1" height="143" fill="url(#gFlare)" transform="scale(1 1.0038)"/><rect x="184.17" y="-71.5" width="49.1" height="143" fill="url(#gFlare)" transform="scale(1 1.0232)"/><rect x="186.17" y="-71.5" width="47.1" height="143" fill="url(#gFlare)" transform="scale(1 1.0426)"/><rect x="188.17" y="-71.5" width="45.1" height="143" fill="url(#gFlare)" transform="scale(1 1.0620)"/><rect x="190.17" y="-71.5" width="43.1" height="143" fill="url(#gFlare)" transform="scale(1 1.0814)"/><rect x="192.17" y="-71.5" width="41.1" height="143" fill="url(#gFlare)" transform="scale(1 1.1008)"/><rect x="194.17" y="-71.5" width="39.1" height="143" fill="url(#gFlare)" transform="scale(1 1.1202)"/><rect x="196.17" y="-71.5" width="37.1" height="143" fill="url(#gFlare)" transform="scale(1 1.1396)"/><rect x="198.17" y="-71.5" width="35.1" height="143" fill="url(#gFlare)" transform="scale(1 1.1590)"/><rect x="200.17" y="-71.5" width="33.1" height="143" fill="url(#gFlare)" transform="scale(1 1.1784)"/><rect x="202.17" y="-71.5" width="31.1" height="143" fill="url(#gFlare)" transform="scale(1 1.1978)"/><rect x="204.17" y="-71.5" width="29.1" height="143" fill="url(#gFlare)" transform="scale(1 1.2172)"/><rect x="206.17" y="-71.5" width="27.1" height="143" fill="url(#gFlare)" transform="scale(1 1.2366)"/><rect x="208.17" y="-71.5" width="25.1" height="143" fill="url(#gFlare)" transform="scale(1 1.2560)"/><rect x="210.17" y="-71.5" width="23.1" height="143" fill="url(#gFlare)" transform="scale(1 1.2754)"/><rect x="212.17" y="-71.5" width="21.1" height="143" fill="url(#gFlare)" transform="scale(1 1.2948)"/><rect x="214.17" y="-71.5" width="19.1" height="143" fill="url(#gFlare)" transform="scale(1 1.3141)"/><rect x="216.17" y="-71.5" width="17.1" height="143" fill="url(#gFlare)" transform="scale(1 1.3335)"/><rect x="218.17" y="-71.5" width="15.1" height="143" fill="url(#gFlare)" transform="scale(1 1.3529)"/><rect x="220.17" y="-71.5" width="13.1" height="143" fill="url(#gFlare)" transform="scale(1 1.3723)"/><rect x="222.17" y="-71.5" width="11.1" height="143" fill="url(#gFlare)" transform="scale(1 1.3917)"/><rect x="224.17" y="-71.5" width="9.1" height="143" fill="url(#gFlare)" transform="scale(1 1.4111)"/><rect x="226.17" y="-71.5" width="7.1" height="143" fill="url(#gFlare)" transform="scale(1 1.4305)"/><rect x="228.17" y="-71.5" width="5.1" height="143" fill="url(#gFlare)" transform="scale(1 1.4499)"/><rect x="230.17" y="-71.5" width="3.1" height="143" fill="url(#gFlare)" transform="scale(1 1.4693)"/><rect x="232.17" y="-71.5" width="1.1" height="143" fill="url(#gFlare)" transform="scale(1 1.4843)"/></g><path d="M131.17 -35.72 L175.33 -66.34 M175.33 66.34 L131.17 35.72 M175.33 -66.34 L180.83 -69.4 L186.52 -71.12 L192.3 -71.45 L198.05 -70.4 L203.66 -67.98 L209.01 -64.23 L214.02 -59.24 L218.57 -53.1 L222.58 -45.93 L225.98 -37.86 L228.69 -29.06 L230.67 -19.69 L231.87 -9.94 L232.27 0 L231.87 9.94 L230.67 19.69 L228.69 29.06 L225.98 37.86 L222.58 45.93 L218.57 53.1 L214.02 59.24 L209.01 64.23 L203.66 67.98 L198.05 70.4 L192.3 71.45 L186.52 71.12 L180.83 69.4 L175.33 66.34" fill="none" stroke="#000" stroke-width="1.4" stroke-linecap="round" stroke-linejoin="round"/><path d="M239.23 -69.06 L241.36 -67.98 L243.44 -66.7 L245.49 -65.23 L247.48 -63.57 L249.42 -61.73 L251.3 -59.72 L253.12 -57.54 L254.87 -55.19 L256.54 -52.68 L258.13 -50.03 L259.64 -47.23 L261.05 -44.29 L262.38 -41.24 L263.61 -38.06 L264.74 -34.77 L265.76 -31.39 L266.68 -27.91 L267.49 -24.36 L268.19 -20.74 L268.77 -17.06Z" fill="#8e8e8e" stroke="#000" stroke-width="1.2" stroke-linejoin="round"/><path d="M201.53 -69.06 L239.23 -69.06 L268.77 -17.06 L231.07 -17.06 C206.5 -31.87 193.46 -54.87 201.53 -69.06 Z" fill="#a3a3a3" stroke="#000" stroke-width="1.2" stroke-linejoin="round"/><path d="M227.05 -71.46 L228.59 -71.5 L230.13 -71.44 L231.66 -71.29 L233.19 -71.04 L234.72 -70.69 L236.24 -70.25 L237.74 -69.7 L239.23 -69.06" fill="none" stroke="#000" stroke-width="1.2"/><clipPath id="cf2"><path d="M138.3 -38.44 L140.89 -38.43 L143.46 -37.89 L145.98 -36.84 L148.41 -35.3 L150.72 -33.29 L152.88 -30.82 L154.86 -27.94 L156.63 -24.69 L158.18 -21.1 L159.47 -17.23 L160.49 -13.13 L161.23 -8.85 L161.68 -4.46 L161.83 -0 L161.68 4.46 L161.23 8.85 L160.49 13.13 L159.47 17.23 L158.18 21.1 L156.63 24.69 L154.86 27.94 L152.88 30.82 L150.72 33.29 L148.41 35.3 L145.98 36.84 L143.46 37.89 L140.89 38.43 L138.3 38.44 L-1.79 25.46 L-3.39 25.17 L-4.95 24.57 L-6.47 23.69 L-7.92 22.53 L-9.3 21.11 L-10.57 19.44 L-11.74 17.54 L-12.77 15.44 L-13.67 13.15 L-14.42 10.71 L-15.02 8.14 L-15.44 5.48 L-15.7 2.76 L-15.79 0 L-15.7 -2.76 L-15.44 -5.48 L-15.02 -8.14 L-14.42 -10.71 L-13.67 -13.15 L-12.77 -15.44 L-11.74 -17.54 L-10.57 -19.44 L-9.3 -21.11 L-7.92 -22.53 L-6.47 -23.69 L-4.95 -24.57 L-3.39 -25.17 L-1.79 -25.46Z"/></clipPath><g clip-path="url(#cf2)"><rect x="-16.79" y="-38.5" width="179.62" height="77" fill="url(#gCone)" transform="scale(1 0.6277)"/><rect x="-14.79" y="-38.5" width="177.62" height="77" fill="url(#gCone)" transform="scale(1 0.6325)"/><rect x="-12.79" y="-38.5" width="175.62" height="77" fill="url(#gCone)" transform="scale(1 0.6373)"/><rect x="-10.79" y="-38.5" width="173.62" height="77" fill="url(#gCone)" transform="scale(1 0.6421)"/><rect x="-8.79" y="-38.5" width="171.62" height="77" fill="url(#gCone)" transform="scale(1 0.6470)"/><rect x="-6.79" y="-38.5" width="169.62" height="77" fill="url(#gCone)" transform="scale(1 0.6518)"/><rect x="-4.79" y="-38.5" width="167.62" height="77" fill="url(#gCone)" transform="scale(1 0.6566)"/><rect x="-2.79" y="-38.5" width="165.62" height="77" fill="url(#gCone)" transform="scale(1 0.6614)"/><rect x="-0.79" y="-38.5" width="163.62" height="77" fill="url(#gCone)" transform="scale(1 0.6662)"/><rect x="1.21" y="-38.5" width="161.62" height="77" fill="url(#gCone)" transform="scale(1 0.6710)"/><rect x="3.21" y="-38.5" width="159.62" height="77" fill="url(#gCone)" transform="scale(1 0.6758)"/><rect x="5.21" y="-38.5" width="157.62" height="77" fill="url(#gCone)" transform="scale(1 0.6806)"/><rect x="7.21" y="-38.5" width="155.62" height="77" fill="url(#gCone)" transform="scale(1 0.6855)"/><rect x="9.21" y="-38.5" width="153.62" height="77" fill="url(#gCone)" transform="scale(1 0.6903)"/><rect x="11.21" y="-38.5" width="151.62" height="77" fill="url(#gCone)" transform="scale(1 0.6951)"/><rect x="13.21" y="-38.5" width="149.62" height="77" fill="url(#gCone)" transform="scale(1 0.6999)"/><rect x="15.21" y="-38.5" width="147.62" height="77" fill="url(#gCone)" transform="scale(1 0.7047)"/><rect x="17.21" y="-38.5" width="145.62" height="77" fill="url(#gCone)" transform="scale(1 0.7095)"/><rect x="19.21" y="-38.5" width="143.62" height="77" fill="url(#gCone)" transform="scale(1 0.7143)"/><rect x="21.21" y="-38.5" width="141.62" height="77" fill="url(#gCone)" transform="scale(1 0.7192)"/><rect x="23.21" y="-38.5" width="139.62" height="77" fill="url(#gCone)" transform="scale(1 0.7240)"/><rect x="25.21" y="-38.5" width="137.62" height="77" fill="url(#gCone)" transform="scale(1 0.7288)"/><rect x="27.21" y="-38.5" width="135.62" height="77" fill="url(#gCone)" transform="scale(1 0.7336)"/><rect x="29.21" y="-38.5" width="133.62" height="77" fill="url(#gCone)" transform="scale(1 0.7384)"/><rect x="31.21" y="-38.5" width="131.62" height="77" fill="url(#gCone)" transform="scale(1 0.7432)"/><rect x="33.21" y="-38.5" width="129.62" height="77" fill="url(#gCone)" transform="scale(1 0.7480)"/><rect x="35.21" y="-38.5" width="127.62" height="77" fill="url(#gCone)" transform="scale(1 0.7528)"/><rect x="37.21" y="-38.5" width="125.62" height="77" fill="url(#gCone)" transform="scale(1 0.7577)"/><rect x="39.21" y="-38.5" width="123.62" height="77" fill="url(#gCone)" transform="scale(1 0.7625)"/><rect x="41.21" y="-38.5" width="121.62" height="77" fill="url(#gCone)" transform="scale(1 0.7673)"/><rect x="43.21" y="-38.5" width="119.62" height="77" fill="url(#gCone)" transform="scale(1 0.7721)"/><rect x="45.21" y="-38.5" width="117.62" height="77" fill="url(#gCone)" transform="scale(1 0.7769)"/><rect x="47.21" y="-38.5" width="115.62" height="77" fill="url(#gCone)" transform="scale(1 0.7817)"/><rect x="49.21" y="-38.5" width="113.62" height="77" fill="url(#gCone)" transform="scale(1 0.7865)"/><rect x="51.21" y="-38.5" width="111.62" height="77" fill="url(#gCone)" transform="scale(1 0.7914)"/><rect x="53.21" y="-38.5" width="109.62" height="77" fill="url(#gCone)" transform="scale(1 0.7962)"/><rect x="55.21" y="-38.5" width="107.62" height="77" fill="url(#gCone)" transform="scale(1 0.8010)"/><rect x="57.21" y="-38.5" width="105.62" height="77" fill="url(#gCone)" transform="scale(1 0.8058)"/><rect x="59.21" y="-38.5" width="103.62" height="77" fill="url(#gCone)" transform="scale(1 0.8106)"/><rect x="61.21" y="-38.5" width="101.62" height="77" fill="url(#gCone)" transform="scale(1 0.8154)"/><rect x="63.21" y="-38.5" width="99.62" height="77" fill="url(#gCone)" transform="scale(1 0.8202)"/><rect x="65.21" y="-38.5" width="97.62" height="77" fill="url(#gCone)" transform="scale(1 0.8251)"/><rect x="67.21" y="-38.5" width="95.62" height="77" fill="url(#gCone)" transform="scale(1 0.8299)"/><rect x="69.21" y="-38.5" width="93.62" height="77" fill="url(#gCone)" transform="scale(1 0.8347)"/><rect x="71.21" y="-38.5" width="91.62" height="77" fill="url(#gCone)" transform="scale(1 0.8395)"/><rect x="73.21" y="-38.5" width="89.62" height="77" fill="url(#gCone)" transform="scale(1 0.8443)"/><rect x="75.21" y="-38.5" width="87.62" height="77" fill="url(#gCone)" transform="scale(1 0.8491)"/><rect x="77.21" y="-38.5" width="85.62" height="77" fill="url(#gCone)" transform="scale(1 0.8539)"/><rect x="79.21" y="-38.5" width="83.62" height="77" fill="url(#gCone)" transform="scale(1 0.8587)"/><rect x="81.21" y="-38.5" width="81.62" height="77" fill="url(#gCone)" transform="scale(1 0.8636)"/><rect x="83.21" y="-38.5" width="79.62" height="77" fill="url(#gCone)" transform="scale(1 0.8684)"/><rect x="85.21" y="-38.5" width="77.62" height="77" fill="url(#gCone)" transform="scale(1 0.8732)"/><rect x="87.21" y="-38.5" width="75.62" height="77" fill="url(#gCone)" transform="scale(1 0.8780)"/><rect x="89.21" y="-38.5" width="73.62" height="77" fill="url(#gCone)" transform="scale(1 0.8828)"/><rect x="91.21" y="-38.5" width="71.62" height="77" fill="url(#gCone)" transform="scale(1 0.8876)"/><rect x="93.21" y="-38.5" width="69.62" height="77" fill="url(#gCone)" transform="scale(1 0.8924)"/><rect x="95.21" y="-38.5" width="67.62" height="77" fill="url(#gCone)" transform="scale(1 0.8973)"/><rect x="97.21" y="-38.5" width="65.62" height="77" fill="url(#gCone)" transform="scale(1 0.9021)"/><rect x="99.21" y="-38.5" width="63.62" height="77" fill="url(#gCone)" transform="scale(1 0.9069)"/><rect x="101.21" y="-38.5" width="61.62" height="77" fill="url(#gCone)" transform="scale(1 0.9117)"/><rect x="103.21" y="-38.5" width="59.62" height="77" fill="url(#gCone)" transform="scale(1 0.9165)"/><rect x="105.21" y="-38.5" width="57.62" height="77" fill="url(#gCone)" transform="scale(1 0.9213)"/><rect x="107.21" y="-38.5" width="55.62" height="77" fill="url(#gCone)" transform="scale(1 0.9261)"/><rect x="109.21" y="-38.5" width="53.62" height="77" fill="url(#gCone)" transform="scale(1 0.9309)"/><rect x="111.21" y="-38.5" width="51.62" height="77" fill="url(#gCone)" transform="scale(1 0.9358)"/><rect x="113.21" y="-38.5" width="49.62" height="77" fill="url(#gCone)" transform="scale(1 0.9406)"/><rect x="115.21" y="-38.5" width="47.62" height="77" fill="url(#gCone)" transform="scale(1 0.9454)"/><rect x="117.21" y="-38.5" width="45.62" height="77" fill="url(#gCone)" transform="scale(1 0.9502)"/><rect x="119.21" y="-38.5" width="43.62" height="77" fill="url(#gCone)" transform="scale(1 0.9550)"/><rect x="121.21" y="-38.5" width="41.62" height="77" fill="url(#gCone)" transform="scale(1 0.9598)"/><rect x="123.21" y="-38.5" width="39.62" height="77" fill="url(#gCone)" transform="scale(1 0.9646)"/><rect x="125.21" y="-38.5" width="37.62" height="77" fill="url(#gCone)" transform="scale(1 0.9695)"/><rect x="127.21" y="-38.5" width="35.62" height="77" fill="url(#gCone)" transform="scale(1 0.9743)"/><rect x="129.21" y="-38.5" width="33.62" height="77" fill="url(#gCone)" transform="scale(1 0.9791)"/><rect x="131.21" y="-38.5" width="31.62" height="77" fill="url(#gCone)" transform="scale(1 0.9839)"/><rect x="133.21" y="-38.5" width="29.62" height="77" fill="url(#gCone)" transform="scale(1 0.9887)"/><rect x="135.21" y="-38.5" width="27.62" height="77" fill="url(#gCone)" transform="scale(1 0.9935)"/><rect x="137.21" y="-38.5" width="25.62" height="77" fill="url(#gCone)" transform="scale(1 0.9983)"/><rect x="139.21" y="-38.5" width="23.62" height="77" fill="url(#gCone)" transform="scale(1 1.0032)"/><rect x="141.21" y="-38.5" width="21.62" height="77" fill="url(#gCone)" transform="scale(1 1.0080)"/><rect x="143.21" y="-38.5" width="19.62" height="77" fill="url(#gCone)" transform="scale(1 1.0128)"/><rect x="145.21" y="-38.5" width="17.62" height="77" fill="url(#gCone)" transform="scale(1 1.0176)"/><rect x="147.21" y="-38.5" width="15.62" height="77" fill="url(#gCone)" transform="scale(1 1.0224)"/><rect x="149.21" y="-38.5" width="13.62" height="77" fill="url(#gCone)" transform="scale(1 1.0272)"/><rect x="151.21" y="-38.5" width="11.62" height="77" fill="url(#gCone)" transform="scale(1 1.0320)"/><rect x="153.21" y="-38.5" width="9.62" height="77" fill="url(#gCone)" transform="scale(1 1.0368)"/><rect x="155.21" y="-38.5" width="7.62" height="77" fill="url(#gCone)" transform="scale(1 1.0417)"/><rect x="157.21" y="-38.5" width="5.62" height="77" fill="url(#gCone)" transform="scale(1 1.0465)"/><rect x="159.21" y="-38.5" width="3.62" height="77" fill="url(#gCone)" transform="scale(1 1.0513)"/><rect x="161.21" y="-38.5" width="1.62" height="77" fill="url(#gCone)" transform="scale(1 1.0556)"/></g><path d="M-1.79 -25.46 L138.3 -38.44 M138.3 38.44 L-1.79 25.46 M138.3 -38.44 L140.89 -38.43 L143.46 -37.89 L145.98 -36.84 L148.41 -35.3 L150.72 -33.29 L152.88 -30.82 L154.86 -27.94 L156.63 -24.69 L158.18 -21.1 L159.47 -17.23 L160.49 -13.13 L161.23 -8.85 L161.68 -4.46 L161.83 -0 L161.68 4.46 L161.23 8.85 L160.49 13.13 L159.47 17.23 L158.18 21.1 L156.63 24.69 L154.86 27.94 L152.88 30.82 L150.72 33.29 L148.41 35.3 L145.98 36.84 L143.46 37.89 L140.89 38.43 L138.3 38.44" fill="none" stroke="#000" stroke-width="1.4" stroke-linecap="round" stroke-linejoin="round"/><clipPath id="cNC"><path d="M138.3 -38.44 L140.89 -38.43 L143.46 -37.89 L145.98 -36.84 L148.41 -35.3 L150.72 -33.29 L152.88 -30.82 L154.86 -27.94 L156.63 -24.69 L158.18 -21.1 L159.47 -17.23 L160.49 -13.13 L161.23 -8.85 L161.68 -4.46 L161.83 -0 L161.68 4.46 L161.23 8.85 L160.49 13.13 L159.47 17.23 L158.18 21.1 L156.63 24.69 L154.86 27.94 L152.88 30.82 L150.72 33.29 L148.41 35.3 L145.98 36.84 L143.46 37.89 L140.89 38.43 L138.3 38.44 L-1.79 25.46 L-3.39 25.17 L-4.95 24.57 L-6.47 23.69 L-7.92 22.53 L-9.3 21.11 L-10.57 19.44 L-11.74 17.54 L-12.77 15.44 L-13.67 13.15 L-14.42 10.71 L-15.02 8.14 L-15.44 5.48 L-15.7 2.76 L-15.79 0 L-15.7 -2.76 L-15.44 -5.48 L-15.02 -8.14 L-14.42 -10.71 L-13.67 -13.15 L-12.77 -15.44 L-11.74 -17.54 L-10.57 -19.44 L-9.3 -21.11 L-7.92 -22.53 L-6.47 -23.69 L-4.95 -24.57 L-3.39 -25.17 L-1.79 -25.46Z"/></clipPath><rect x="20" y="-40" width="82" height="80" fill="url(#gBand)" clip-path="url(#cNC)"/><g transform="translate(-1 0)"><clipPath id="cWM"><path d="M52.04 -30.36 L54.12 -30.34 L56.18 -29.92 L58.21 -29.1 L60.16 -27.88 L62.01 -26.29 L63.75 -24.34 L65.34 -22.07 L66.76 -19.5 L68 -16.67 L69.04 -13.61 L69.86 -10.37 L70.46 -6.99 L70.82 -3.52 L70.94 -0 L70.82 3.52 L70.46 6.99 L69.86 10.37 L69.04 13.61 L68 16.67 L66.76 19.5 L65.34 22.07 L63.75 24.34 L62.01 26.29 L60.16 27.88 L58.21 29.1 L56.18 29.92 L54.12 30.34 L52.04 30.36 L-0.79 25.46 L-2.39 25.17 L-3.95 24.57 L-5.47 23.69 L-6.92 22.53 L-8.3 21.11 L-9.57 19.44 L-10.74 17.54 L-11.77 15.44 L-12.67 13.15 L-13.42 10.71 L-14.02 8.14 L-14.44 5.48 L-14.7 2.76 L-14.79 0 L-14.7 -2.76 L-14.44 -5.48 L-14.02 -8.14 L-13.42 -10.71 L-12.67 -13.15 L-11.77 -15.44 L-10.74 -17.54 L-9.57 -19.44 L-8.3 -21.11 L-6.92 -22.53 L-5.47 -23.69 L-3.95 -24.57 L-2.39 -25.17 L-0.79 -25.46Z"/></clipPath><g clip-path="url(#cWM)"><rect x="-16.79" y="-32.38" width="90.03" height="64.77" fill="url(#gDWM)" transform="scale(1 0.7423)"/><rect x="-14.79" y="-32.38" width="88.03" height="64.77" fill="url(#gDWM)" transform="scale(1 0.7480)"/><rect x="-12.79" y="-32.38" width="86.03" height="64.77" fill="url(#gDWM)" transform="scale(1 0.7537)"/><rect x="-10.79" y="-32.38" width="84.03" height="64.77" fill="url(#gDWM)" transform="scale(1 0.7594)"/><rect x="-8.79" y="-32.38" width="82.03" height="64.77" fill="url(#gDWM)" transform="scale(1 0.7651)"/><rect x="-6.79" y="-32.38" width="80.03" height="64.77" fill="url(#gDWM)" transform="scale(1 0.7709)"/><rect x="-4.79" y="-32.38" width="78.03" height="64.77" fill="url(#gDWM)" transform="scale(1 0.7766)"/><rect x="-2.79" y="-32.38" width="76.03" height="64.77" fill="url(#gDWM)" transform="scale(1 0.7823)"/><rect x="-0.79" y="-32.38" width="74.03" height="64.77" fill="url(#gDWM)" transform="scale(1 0.7880)"/><rect x="1.21" y="-32.38" width="72.03" height="64.77" fill="url(#gDWM)" transform="scale(1 0.7937)"/><rect x="3.21" y="-32.38" width="70.03" height="64.77" fill="url(#gDWM)" transform="scale(1 0.7994)"/><rect x="5.21" y="-32.38" width="68.03" height="64.77" fill="url(#gDWM)" transform="scale(1 0.8051)"/><rect x="7.21" y="-32.38" width="66.03" height="64.77" fill="url(#gDWM)" transform="scale(1 0.8109)"/><rect x="9.21" y="-32.38" width="64.03" height="64.77" fill="url(#gDWM)" transform="scale(1 0.8166)"/><rect x="11.21" y="-32.38" width="62.03" height="64.77" fill="url(#gDWM)" transform="scale(1 0.8223)"/><rect x="13.21" y="-32.38" width="60.03" height="64.77" fill="url(#gDWM)" transform="scale(1 0.8280)"/><rect x="15.21" y="-32.38" width="58.03" height="64.77" fill="url(#gDWM)" transform="scale(1 0.8337)"/><rect x="17.21" y="-32.38" width="56.03" height="64.77" fill="url(#gDWM)" transform="scale(1 0.8394)"/><rect x="19.21" y="-32.38" width="54.03" height="64.77" fill="url(#gDWM)" transform="scale(1 0.8451)"/><rect x="21.21" y="-32.38" width="52.03" height="64.77" fill="url(#gDWM)" transform="scale(1 0.8509)"/><rect x="23.21" y="-32.38" width="50.03" height="64.77" fill="url(#gDWM)" transform="scale(1 0.8566)"/><rect x="25.21" y="-32.38" width="48.03" height="64.77" fill="url(#gDWM)" transform="scale(1 0.8623)"/><rect x="27.21" y="-32.38" width="46.03" height="64.77" fill="url(#gDWM)" transform="scale(1 0.8680)"/><rect x="29.21" y="-32.38" width="44.03" height="64.77" fill="url(#gDWM)" transform="scale(1 0.8737)"/><rect x="31.21" y="-32.38" width="42.03" height="64.77" fill="url(#gDWM)" transform="scale(1 0.8794)"/><rect x="33.21" y="-32.38" width="40.03" height="64.77" fill="url(#gDWM)" transform="scale(1 0.8851)"/><rect x="35.21" y="-32.38" width="38.03" height="64.77" fill="url(#gDWM)" transform="scale(1 0.8909)"/><rect x="37.21" y="-32.38" width="36.03" height="64.77" fill="url(#gDWM)" transform="scale(1 0.8966)"/><rect x="39.21" y="-32.38" width="34.03" height="64.77" fill="url(#gDWM)" transform="scale(1 0.9023)"/><rect x="41.21" y="-32.38" width="32.03" height="64.77" fill="url(#gDWM)" transform="scale(1 0.9080)"/><rect x="43.21" y="-32.38" width="30.03" height="64.77" fill="url(#gDWM)" transform="scale(1 0.9137)"/><rect x="45.21" y="-32.38" width="28.03" height="64.77" fill="url(#gDWM)" transform="scale(1 0.9194)"/><rect x="47.21" y="-32.38" width="26.03" height="64.77" fill="url(#gDWM)" transform="scale(1 0.9251)"/><rect x="49.21" y="-32.38" width="24.03" height="64.77" fill="url(#gDWM)" transform="scale(1 0.9309)"/><rect x="51.21" y="-32.38" width="22.03" height="64.77" fill="url(#gDWM)" transform="scale(1 0.9366)"/><rect x="53.21" y="-32.38" width="20.03" height="64.77" fill="url(#gDWM)" transform="scale(1 0.9423)"/><rect x="55.21" y="-32.38" width="18.03" height="64.77" fill="url(#gDWM)" transform="scale(1 0.9480)"/><rect x="57.21" y="-32.38" width="16.03" height="64.77" fill="url(#gDWM)" transform="scale(1 0.9537)"/><rect x="59.21" y="-32.38" width="14.03" height="64.77" fill="url(#gDWM)" transform="scale(1 0.9594)"/><rect x="61.21" y="-32.38" width="12.03" height="64.77" fill="url(#gDWM)" transform="scale(1 0.9651)"/><rect x="63.21" y="-32.38" width="10.03" height="64.77" fill="url(#gDWM)" transform="scale(1 0.9709)"/><rect x="65.21" y="-32.38" width="8.03" height="64.77" fill="url(#gDWM)" transform="scale(1 0.9766)"/><rect x="67.21" y="-32.38" width="6.03" height="64.77" fill="url(#gDWM)" transform="scale(1 0.9823)"/><rect x="69.21" y="-32.38" width="4.03" height="64.77" fill="url(#gDWM)" transform="scale(1 0.9880)"/><rect x="71.21" y="-32.38" width="2.03" height="64.77" fill="url(#gDWM)" transform="scale(1 0.9937)"/><rect x="73.21" y="-32.38" width="0.03" height="64.77" fill="url(#gDWM)" transform="scale(1 0.9966)"/><path d="M5.1 -26.01 L7.07 -25.79 L9 -25.12 L10.87 -24.03 L12.64 -22.53 L14.28 -20.64 L15.77 -18.39 L17.07 -15.83 L18.16 -13.01 L19.04 -9.95 L19.67 -6.73 L20.06 -3.39 L20.19 -0 L20.06 3.39 L19.67 6.73 L19.04 9.95 L18.16 13 L17.07 15.83 L15.77 18.39 L14.28 20.64 L12.64 22.53 L10.87 24.03 L9 25.12 L7.07 25.79 L5.1 26.01 L3.13 25.79 L1.2 25.12 L-0.67 24.03 L-2.44 22.53 L-4.08 20.64 L-5.57 18.39 L-6.87 15.83 L-7.96 13.01 L-8.84 9.95 L-9.47 6.73 L-9.86 3.39 L-9.99 0 L-9.86 -3.39 L-9.47 -6.73 L-8.84 -9.95 L-7.96 -13.01 L-6.87 -15.83 L-5.57 -18.39 L-4.08 -20.64 L-2.44 -22.53 L-0.67 -24.03 L1.2 -25.12 L3.13 -25.79 L5.1 -26.01Z M0.51 -20.4 L2.05 -20.23 L3.57 -19.7 L5.04 -18.85 L6.43 -17.67 L7.71 -16.18 L8.88 -14.42 L9.9 -12.42 L10.76 -10.2 L11.44 -7.81 L11.94 -5.28 L12.24 -2.66 L12.34 -0 L12.24 2.66 L11.94 5.28 L11.44 7.81 L10.76 10.2 L9.9 12.42 L8.88 14.42 L7.71 16.18 L6.43 17.67 L5.04 18.85 L3.57 19.7 L2.05 20.23 L0.51 20.4 L-1.03 20.23 L-2.55 19.7 L-4.02 18.85 L-5.41 17.67 L-6.69 16.18 L-7.86 14.42 L-8.88 12.42 L-9.74 10.2 L-10.42 7.81 L-10.92 5.28 L-11.22 2.66 L-11.32 0 L-11.22 -2.66 L-10.92 -5.28 L-10.42 -7.81 L-9.74 -10.2 L-8.88 -12.42 L-7.86 -14.42 L-6.69 -16.18 L-5.41 -17.67 L-4.02 -18.85 L-2.55 -19.7 L-1.03 -20.23 L0.51 -20.4Z" fill="url(#gRingM)" fill-rule="evenodd"/><path d="M3.06 -24.22 L4.89 -24.02 L6.7 -23.4 L8.44 -22.38 L10.09 -20.98 L11.61 -19.22 L13 -17.13 L14.21 -14.75 L15.23 -12.11 L16.04 -9.27 L16.63 -6.27 L16.99 -3.16 L17.11 -0 L16.99 3.16 L16.63 6.27 L16.04 9.27 L15.23 12.11 L14.21 14.75 L13 17.13 L11.61 19.22 L10.09 20.98 L8.44 22.38 L6.7 23.4 L4.89 24.02 L3.06 24.22 L1.23 24.02 L-0.58 23.4 L-2.32 22.38 L-3.97 20.98 L-5.49 19.22 L-6.88 17.13 L-8.09 14.75 L-9.11 12.11 L-9.92 9.27 L-10.51 6.27 L-10.87 3.16 L-10.99 0 L-10.87 -3.16 L-10.51 -6.27 L-9.92 -9.27 L-9.11 -12.11 L-8.09 -14.75 L-6.88 -17.13 L-5.49 -19.22 L-3.97 -20.98 L-2.32 -22.38 L-0.58 -23.4 L1.23 -24.02 L3.06 -24.22Z M1.28 -22.18 L2.95 -22 L4.61 -21.43 L6.2 -20.5 L7.71 -19.21 L9.11 -17.6 L10.37 -15.69 L11.48 -13.51 L12.42 -11.09 L13.16 -8.49 L13.7 -5.74 L14.03 -2.9 L14.14 -0 L14.03 2.9 L13.7 5.74 L13.16 8.49 L12.42 11.09 L11.48 13.51 L10.37 15.69 L9.11 17.6 L7.71 19.21 L6.2 20.5 L4.61 21.43 L2.95 22 L1.28 22.18 L-0.4 22 L-2.06 21.43 L-3.65 20.5 L-5.16 19.21 L-6.56 17.6 L-7.82 15.69 L-8.93 13.51 L-9.87 11.09 L-10.61 8.49 L-11.15 5.74 L-11.48 2.9 L-11.59 0 L-11.48 -2.9 L-11.15 -5.74 L-10.61 -8.49 L-9.87 -11.09 L-8.93 -13.51 L-7.82 -15.69 L-6.56 -17.6 L-5.16 -19.21 L-3.65 -20.5 L-2.06 -21.43 L-0.4 -22 L1.27 -22.18Z" fill="#fff" fill-opacity="0.25" fill-rule="evenodd"/></g><path d="M52.04 30.36 L-0.79 25.46 L-2.39 25.17 L-3.95 24.57 L-5.47 23.69 L-6.92 22.53 L-8.3 21.11 L-9.57 19.44 L-10.74 17.54 L-11.77 15.44 L-12.67 13.15 L-13.42 10.71 L-14.02 8.14 L-14.44 5.48 L-14.7 2.76 L-14.79 0 L-14.7 -2.76 L-14.44 -5.48 L-14.02 -8.14 L-13.42 -10.71 L-12.67 -13.15 L-11.77 -15.44 L-10.74 -17.54 L-9.57 -19.44 L-8.3 -21.11 L-6.92 -22.53 L-5.47 -23.69 L-3.95 -24.57 L-2.39 -25.17 L-0.79 -25.46 L52.04 -30.36" fill="none" stroke="#000" stroke-width="1.4" stroke-linejoin="round" stroke-linecap="round"/><ellipse cx="-4.75" cy="-2.85" rx="7.29" ry="9.11" fill="url(#gHoleShM)"/><ellipse cx="-1.4" cy="0.5" rx="5.21" ry="9.3" fill="url(#gHoleM)"/><clipPath id="cHM"><ellipse cx="-1.4" cy="0.5" rx="5.21" ry="9.3"/></clipPath><ellipse cx="0.42" cy="7.94" rx="4.69" ry="3.91" fill="url(#gHoleInM)" clip-path="url(#cHM)"/><path d="M-3.01 -8.34 L-2.41 -8.62 L-1.79 -8.77 L-1.17 -8.79 L-0.55 -8.67 L0.06 -8.43 L0.65 -8.05 L1.2 -7.55 L1.72 -6.94 L2.2 -6.22 L2.62 -5.41 L2.99 -4.51 L3.29 -3.54 L3.53 -2.51 L3.69 -1.43 L3.79 -0.33 L3.81 0.78 L3.75 1.89 L3.62 2.97 L3.42 4.03 L3.15 5.03 L2.81 5.97 L2.42 6.83 L1.97 7.59 L1.47 8.26 L0.93 8.82 L0.36 9.25 L-0.24 9.57 L-0.86 9.75" fill="none" stroke="#000" stroke-width="1.05" stroke-linecap="round"/><path d="M0.8 -7.93 L1.16 -7.6 L1.51 -7.22 L1.83 -6.79 L2.14 -6.32 L2.43 -5.8 L2.69 -5.25 L2.93 -4.67 L3.14 -4.05 L3.33 -3.4 L3.48 -2.74 L3.61 -2.05 L3.7 -1.34 L3.77 -0.63 L3.8 0.09 L3.8 0.82 L3.78 1.54 L3.71 2.26 L3.62 2.96 L3.5 3.65 L3.35 4.32 L3.17 4.97 L2.96 5.59 L2.72 6.18 L2.46 6.74 L2.18 7.26 L1.87 7.73 L1.55 8.17 L1.2 8.55" fill="none" stroke="#000" stroke-width="1.82" stroke-linecap="round"/><path d="M-1.85 9.76 L-2.32 9.65 L-2.78 9.47 L-3.23 9.21 L-3.66 8.88 L-4.07 8.48 L-4.47 8.02 L-4.83 7.49 L-5.17 6.91 L-5.48 6.28 L-5.76 5.59 L-6 4.87 L-6.2 4.11 L-6.36 3.32 L-6.48 2.51 L-6.57 1.69 L-6.6 0.85 L-6.6 0.01 L-6.55 -0.83 L-6.47 -1.65 L-6.34 -2.46 L-6.17 -3.25 L-5.96 -4 L-5.71 -4.71 L-5.43 -5.39 L-5.12 -6.01 L-4.77 -6.59 L-4.4 -7.1 L-4 -7.55" fill="none" stroke="#d6d6d6" stroke-width="0.56" stroke-linecap="round"/></g></g>
<circle cx="514.2" cy="302" r="56" fill="none" stroke="#000" stroke-width="1.3" stroke-dasharray="5 3.2"/>
<path d="M425 240 L468.5 267.3" fill="none" stroke="#000" stroke-width="1.3" stroke-dasharray="5 3.2"/>
<g transform="translate(270.3 235.5) rotate(-29.6)"><clipPath id="cGD"><path d="M122.46 -49.14 L123.74 -49.09 L125.01 -48.38 L126.25 -47.03 L127.45 -45.05 L128.59 -42.46 L129.66 -39.31 L130.63 -35.63 L131.51 -31.48 L132.27 -26.9 L132.91 -21.97 L133.41 -16.74 L133.77 -11.28 L134 -5.68 L134.07 -0 L134 5.68 L133.77 11.28 L133.41 16.74 L132.91 21.97 L132.27 26.9 L131.51 31.48 L130.63 35.63 L129.66 39.31 L128.59 42.46 L127.45 45.05 L126.25 47.03 L125.01 48.38 L123.74 49.09 L122.46 49.14 L-1.1 38.75 L-3.54 38.32 L-5.93 37.43 L-8.25 36.1 L-10.47 34.35 L-12.57 32.19 L-14.52 29.65 L-16.3 26.75 L-17.89 23.55 L-19.26 20.06 L-20.41 16.34 L-21.32 12.43 L-21.97 8.37 L-22.37 4.21 L-22.5 0 L-22.37 -4.21 L-21.97 -8.37 L-21.32 -12.43 L-20.41 -16.34 L-19.26 -20.06 L-17.89 -23.55 L-16.3 -26.75 L-14.52 -29.65 L-12.57 -32.19 L-10.47 -34.35 L-8.25 -36.1 L-5.93 -37.43 L-3.54 -38.32 L-1.1 -38.75Z"/></clipPath><g clip-path="url(#cGD)"><rect x="40" y="-49.28" width="103" height="98.55" fill="url(#gDGD)" transform="scale(1 0.8578)"/><rect x="42" y="-49.28" width="101" height="98.55" fill="url(#gDGD)" transform="scale(1 0.8612)"/><rect x="44" y="-49.28" width="99" height="98.55" fill="url(#gDGD)" transform="scale(1 0.8646)"/><rect x="46" y="-49.28" width="97" height="98.55" fill="url(#gDGD)" transform="scale(1 0.8680)"/><rect x="48" y="-49.28" width="95" height="98.55" fill="url(#gDGD)" transform="scale(1 0.8715)"/><rect x="50" y="-49.28" width="93" height="98.55" fill="url(#gDGD)" transform="scale(1 0.8749)"/><rect x="52" y="-49.28" width="91" height="98.55" fill="url(#gDGD)" transform="scale(1 0.8783)"/><rect x="54" y="-49.28" width="89" height="98.55" fill="url(#gDGD)" transform="scale(1 0.8818)"/><rect x="56" y="-49.28" width="87" height="98.55" fill="url(#gDGD)" transform="scale(1 0.8852)"/><rect x="58" y="-49.28" width="85" height="98.55" fill="url(#gDGD)" transform="scale(1 0.8886)"/><rect x="60" y="-49.28" width="83" height="98.55" fill="url(#gDGD)" transform="scale(1 0.8921)"/><rect x="62" y="-49.28" width="81" height="98.55" fill="url(#gDGD)" transform="scale(1 0.8955)"/><rect x="64" y="-49.28" width="79" height="98.55" fill="url(#gDGD)" transform="scale(1 0.8989)"/><rect x="66" y="-49.28" width="77" height="98.55" fill="url(#gDGD)" transform="scale(1 0.9024)"/><rect x="68" y="-49.28" width="75" height="98.55" fill="url(#gDGD)" transform="scale(1 0.9058)"/><rect x="70" y="-49.28" width="73" height="98.55" fill="url(#gDGD)" transform="scale(1 0.9092)"/><rect x="72" y="-49.28" width="71" height="98.55" fill="url(#gDGD)" transform="scale(1 0.9127)"/><rect x="74" y="-49.28" width="69" height="98.55" fill="url(#gDGD)" transform="scale(1 0.9161)"/><rect x="76" y="-49.28" width="67" height="98.55" fill="url(#gDGD)" transform="scale(1 0.9195)"/><rect x="78" y="-49.28" width="65" height="98.55" fill="url(#gDGD)" transform="scale(1 0.9230)"/><rect x="80" y="-49.28" width="63" height="98.55" fill="url(#gDGD)" transform="scale(1 0.9264)"/><rect x="82" y="-49.28" width="61" height="98.55" fill="url(#gDGD)" transform="scale(1 0.9298)"/><rect x="84" y="-49.28" width="59" height="98.55" fill="url(#gDGD)" transform="scale(1 0.9333)"/><rect x="86" y="-49.28" width="57" height="98.55" fill="url(#gDGD)" transform="scale(1 0.9367)"/><rect x="88" y="-49.28" width="55" height="98.55" fill="url(#gDGD)" transform="scale(1 0.9401)"/><rect x="90" y="-49.28" width="53" height="98.55" fill="url(#gDGD)" transform="scale(1 0.9435)"/><rect x="92" y="-49.28" width="51" height="98.55" fill="url(#gDGD)" transform="scale(1 0.9470)"/><rect x="94" y="-49.28" width="49" height="98.55" fill="url(#gDGD)" transform="scale(1 0.9504)"/><rect x="96" y="-49.28" width="47" height="98.55" fill="url(#gDGD)" transform="scale(1 0.9538)"/><rect x="98" y="-49.28" width="45" height="98.55" fill="url(#gDGD)" transform="scale(1 0.9573)"/><rect x="100" y="-49.28" width="43" height="98.55" fill="url(#gDGD)" transform="scale(1 0.9607)"/><rect x="102" y="-49.28" width="41" height="98.55" fill="url(#gDGD)" transform="scale(1 0.9641)"/><rect x="104" y="-49.28" width="39" height="98.55" fill="url(#gDGD)" transform="scale(1 0.9676)"/><rect x="106" y="-49.28" width="37" height="98.55" fill="url(#gDGD)" transform="scale(1 0.9710)"/><rect x="108" y="-49.28" width="35" height="98.55" fill="url(#gDGD)" transform="scale(1 0.9744)"/><rect x="110" y="-49.28" width="33" height="98.55" fill="url(#gDGD)" transform="scale(1 0.9779)"/><rect x="112" y="-49.28" width="31" height="98.55" fill="url(#gDGD)" transform="scale(1 0.9813)"/><rect x="114" y="-49.28" width="29" height="98.55" fill="url(#gDGD)" transform="scale(1 0.9847)"/><rect x="116" y="-49.28" width="27" height="98.55" fill="url(#gDGD)" transform="scale(1 0.9882)"/><rect x="118" y="-49.28" width="25" height="98.55" fill="url(#gDGD)" transform="scale(1 0.9916)"/><rect x="120" y="-49.28" width="23" height="98.55" fill="url(#gDGD)" transform="scale(1 0.9950)"/><rect x="122" y="-49.28" width="21" height="98.55" fill="url(#gDGD)" transform="scale(1 0.9985)"/><rect x="124" y="-49.28" width="19" height="98.55" fill="url(#gDGD)" transform="scale(1 1.0019)"/><rect x="126" y="-49.28" width="17" height="98.55" fill="url(#gDGD)" transform="scale(1 1.0053)"/><rect x="128" y="-49.28" width="15" height="98.55" fill="url(#gDGD)" transform="scale(1 1.0088)"/><rect x="130" y="-49.28" width="13" height="98.55" fill="url(#gDGD)" transform="scale(1 1.0122)"/><rect x="132" y="-49.28" width="11" height="98.55" fill="url(#gDGD)" transform="scale(1 1.0156)"/><rect x="134" y="-49.28" width="9" height="98.55" fill="url(#gDGD)" transform="scale(1 1.0190)"/><rect x="136" y="-49.28" width="7" height="98.55" fill="url(#gDGD)" transform="scale(1 1.0225)"/><rect x="138" y="-49.28" width="5" height="98.55" fill="url(#gDGD)" transform="scale(1 1.0259)"/><rect x="140" y="-49.28" width="3" height="98.55" fill="url(#gDGD)" transform="scale(1 1.0293)"/><rect x="142" y="-49.28" width="1" height="98.55" fill="url(#gDGD)" transform="scale(1 1.0319)"/></g><clipPath id="cWD"><path d="M78.68 -45.51 L81.79 -45.46 L84.87 -44.81 L87.89 -43.56 L90.81 -41.72 L93.58 -39.33 L96.17 -36.41 L98.54 -33 L100.66 -29.15 L102.51 -24.91 L104.05 -20.34 L105.28 -15.5 L106.17 -10.45 L106.7 -5.26 L106.88 -0 L106.7 5.26 L106.17 10.45 L105.28 15.5 L104.05 20.34 L102.51 24.91 L100.66 29.15 L98.54 33 L96.17 36.41 L93.58 39.33 L90.81 41.72 L87.89 43.56 L84.87 44.81 L81.79 45.46 L78.68 45.51 L-1.1 38.75 L-3.54 38.32 L-5.93 37.43 L-8.25 36.1 L-10.47 34.35 L-12.57 32.19 L-14.52 29.65 L-16.3 26.75 L-17.89 23.55 L-19.26 20.06 L-20.41 16.34 L-21.32 12.43 L-21.97 8.37 L-22.37 4.21 L-22.5 0 L-22.37 -4.21 L-21.97 -8.37 L-21.32 -12.43 L-20.41 -16.34 L-19.26 -20.06 L-17.89 -23.55 L-16.3 -26.75 L-14.52 -29.65 L-12.57 -32.19 L-10.47 -34.35 L-8.25 -36.1 L-5.93 -37.43 L-3.54 -38.32 L-1.1 -38.75Z"/></clipPath><g clip-path="url(#cWD)"><rect x="-24.5" y="-49.28" width="133.84" height="98.55" fill="url(#gDWD)" transform="scale(1 0.7471)"/><rect x="-22.5" y="-49.28" width="131.84" height="98.55" fill="url(#gDWD)" transform="scale(1 0.7505)"/><rect x="-20.5" y="-49.28" width="129.84" height="98.55" fill="url(#gDWD)" transform="scale(1 0.7539)"/><rect x="-18.5" y="-49.28" width="127.84" height="98.55" fill="url(#gDWD)" transform="scale(1 0.7574)"/><rect x="-16.5" y="-49.28" width="125.84" height="98.55" fill="url(#gDWD)" transform="scale(1 0.7608)"/><rect x="-14.5" y="-49.28" width="123.84" height="98.55" fill="url(#gDWD)" transform="scale(1 0.7642)"/><rect x="-12.5" y="-49.28" width="121.84" height="98.55" fill="url(#gDWD)" transform="scale(1 0.7677)"/><rect x="-10.5" y="-49.28" width="119.84" height="98.55" fill="url(#gDWD)" transform="scale(1 0.7711)"/><rect x="-8.5" y="-49.28" width="117.84" height="98.55" fill="url(#gDWD)" transform="scale(1 0.7745)"/><rect x="-6.5" y="-49.28" width="115.84" height="98.55" fill="url(#gDWD)" transform="scale(1 0.7780)"/><rect x="-4.5" y="-49.28" width="113.84" height="98.55" fill="url(#gDWD)" transform="scale(1 0.7814)"/><rect x="-2.5" y="-49.28" width="111.84" height="98.55" fill="url(#gDWD)" transform="scale(1 0.7848)"/><rect x="-0.5" y="-49.28" width="109.84" height="98.55" fill="url(#gDWD)" transform="scale(1 0.7883)"/><rect x="1.5" y="-49.28" width="107.84" height="98.55" fill="url(#gDWD)" transform="scale(1 0.7917)"/><rect x="3.5" y="-49.28" width="105.84" height="98.55" fill="url(#gDWD)" transform="scale(1 0.7951)"/><rect x="5.5" y="-49.28" width="103.84" height="98.55" fill="url(#gDWD)" transform="scale(1 0.7985)"/><rect x="7.5" y="-49.28" width="101.84" height="98.55" fill="url(#gDWD)" transform="scale(1 0.8020)"/><rect x="9.5" y="-49.28" width="99.84" height="98.55" fill="url(#gDWD)" transform="scale(1 0.8054)"/><rect x="11.5" y="-49.28" width="97.84" height="98.55" fill="url(#gDWD)" transform="scale(1 0.8088)"/><rect x="13.5" y="-49.28" width="95.84" height="98.55" fill="url(#gDWD)" transform="scale(1 0.8123)"/><rect x="15.5" y="-49.28" width="93.84" height="98.55" fill="url(#gDWD)" transform="scale(1 0.8157)"/><rect x="17.5" y="-49.28" width="91.84" height="98.55" fill="url(#gDWD)" transform="scale(1 0.8191)"/><rect x="19.5" y="-49.28" width="89.84" height="98.55" fill="url(#gDWD)" transform="scale(1 0.8226)"/><rect x="21.5" y="-49.28" width="87.84" height="98.55" fill="url(#gDWD)" transform="scale(1 0.8260)"/><rect x="23.5" y="-49.28" width="85.84" height="98.55" fill="url(#gDWD)" transform="scale(1 0.8294)"/><rect x="25.5" y="-49.28" width="83.84" height="98.55" fill="url(#gDWD)" transform="scale(1 0.8329)"/><rect x="27.5" y="-49.28" width="81.84" height="98.55" fill="url(#gDWD)" transform="scale(1 0.8363)"/><rect x="29.5" y="-49.28" width="79.84" height="98.55" fill="url(#gDWD)" transform="scale(1 0.8397)"/><rect x="31.5" y="-49.28" width="77.84" height="98.55" fill="url(#gDWD)" transform="scale(1 0.8432)"/><rect x="33.5" y="-49.28" width="75.84" height="98.55" fill="url(#gDWD)" transform="scale(1 0.8466)"/><rect x="35.5" y="-49.28" width="73.84" height="98.55" fill="url(#gDWD)" transform="scale(1 0.8500)"/><rect x="37.5" y="-49.28" width="71.84" height="98.55" fill="url(#gDWD)" transform="scale(1 0.8535)"/><rect x="39.5" y="-49.28" width="69.84" height="98.55" fill="url(#gDWD)" transform="scale(1 0.8569)"/><rect x="41.5" y="-49.28" width="67.84" height="98.55" fill="url(#gDWD)" transform="scale(1 0.8603)"/><rect x="43.5" y="-49.28" width="65.84" height="98.55" fill="url(#gDWD)" transform="scale(1 0.8638)"/><rect x="45.5" y="-49.28" width="63.84" height="98.55" fill="url(#gDWD)" transform="scale(1 0.8672)"/><rect x="47.5" y="-49.28" width="61.84" height="98.55" fill="url(#gDWD)" transform="scale(1 0.8706)"/><rect x="49.5" y="-49.28" width="59.84" height="98.55" fill="url(#gDWD)" transform="scale(1 0.8740)"/><rect x="51.5" y="-49.28" width="57.84" height="98.55" fill="url(#gDWD)" transform="scale(1 0.8775)"/><rect x="53.5" y="-49.28" width="55.84" height="98.55" fill="url(#gDWD)" transform="scale(1 0.8809)"/><rect x="55.5" y="-49.28" width="53.84" height="98.55" fill="url(#gDWD)" transform="scale(1 0.8843)"/><rect x="57.5" y="-49.28" width="51.84" height="98.55" fill="url(#gDWD)" transform="scale(1 0.8878)"/><rect x="59.5" y="-49.28" width="49.84" height="98.55" fill="url(#gDWD)" transform="scale(1 0.8912)"/><rect x="61.5" y="-49.28" width="47.84" height="98.55" fill="url(#gDWD)" transform="scale(1 0.8946)"/><rect x="63.5" y="-49.28" width="45.84" height="98.55" fill="url(#gDWD)" transform="scale(1 0.8981)"/><rect x="65.5" y="-49.28" width="43.84" height="98.55" fill="url(#gDWD)" transform="scale(1 0.9015)"/><rect x="67.5" y="-49.28" width="41.84" height="98.55" fill="url(#gDWD)" transform="scale(1 0.9049)"/><rect x="69.5" y="-49.28" width="39.84" height="98.55" fill="url(#gDWD)" transform="scale(1 0.9084)"/><rect x="71.5" y="-49.28" width="37.84" height="98.55" fill="url(#gDWD)" transform="scale(1 0.9118)"/><rect x="73.5" y="-49.28" width="35.84" height="98.55" fill="url(#gDWD)" transform="scale(1 0.9152)"/><rect x="75.5" y="-49.28" width="33.84" height="98.55" fill="url(#gDWD)" transform="scale(1 0.9187)"/><rect x="77.5" y="-49.28" width="31.84" height="98.55" fill="url(#gDWD)" transform="scale(1 0.9221)"/><rect x="79.5" y="-49.28" width="29.84" height="98.55" fill="url(#gDWD)" transform="scale(1 0.9255)"/><rect x="81.5" y="-49.28" width="27.84" height="98.55" fill="url(#gDWD)" transform="scale(1 0.9290)"/><rect x="83.5" y="-49.28" width="25.84" height="98.55" fill="url(#gDWD)" transform="scale(1 0.9324)"/><rect x="85.5" y="-49.28" width="23.84" height="98.55" fill="url(#gDWD)" transform="scale(1 0.9358)"/><rect x="87.5" y="-49.28" width="21.84" height="98.55" fill="url(#gDWD)" transform="scale(1 0.9393)"/><rect x="89.5" y="-49.28" width="19.84" height="98.55" fill="url(#gDWD)" transform="scale(1 0.9427)"/><rect x="91.5" y="-49.28" width="17.84" height="98.55" fill="url(#gDWD)" transform="scale(1 0.9461)"/><rect x="93.5" y="-49.28" width="15.84" height="98.55" fill="url(#gDWD)" transform="scale(1 0.9495)"/><rect x="95.5" y="-49.28" width="13.84" height="98.55" fill="url(#gDWD)" transform="scale(1 0.9530)"/><rect x="97.5" y="-49.28" width="11.84" height="98.55" fill="url(#gDWD)" transform="scale(1 0.9564)"/><rect x="99.5" y="-49.28" width="9.84" height="98.55" fill="url(#gDWD)" transform="scale(1 0.9598)"/><rect x="101.5" y="-49.28" width="7.84" height="98.55" fill="url(#gDWD)" transform="scale(1 0.9633)"/><rect x="103.5" y="-49.28" width="5.84" height="98.55" fill="url(#gDWD)" transform="scale(1 0.9667)"/><rect x="105.5" y="-49.28" width="3.84" height="98.55" fill="url(#gDWD)" transform="scale(1 0.9701)"/><rect x="107.5" y="-49.28" width="1.84" height="98.55" fill="url(#gDWD)" transform="scale(1 0.9734)"/><path d="M7.76 -39.58 L10.76 -39.24 L13.7 -38.23 L16.54 -36.56 L19.24 -34.27 L21.73 -31.4 L23.99 -27.98 L25.97 -24.09 L27.64 -19.79 L28.97 -15.15 L29.93 -10.24 L30.52 -5.17 L30.71 -0 L30.52 5.17 L29.93 10.24 L28.97 15.15 L27.64 19.79 L25.97 24.09 L23.99 27.98 L21.73 31.4 L19.24 34.27 L16.54 36.56 L13.7 38.23 L10.76 39.24 L7.76 39.58 L4.76 39.24 L1.82 38.23 L-1.02 36.56 L-3.72 34.27 L-6.21 31.4 L-8.47 27.98 L-10.45 24.09 L-12.12 19.79 L-13.45 15.15 L-14.41 10.24 L-15 5.17 L-15.19 0 L-15 -5.17 L-14.41 -10.24 L-13.45 -15.15 L-12.12 -19.79 L-10.45 -24.09 L-8.47 -27.98 L-6.21 -31.4 L-3.72 -34.27 L-1.02 -36.56 L1.82 -38.23 L4.76 -39.24 L7.76 -39.58Z M0.78 -31.04 L3.13 -30.77 L5.44 -29.98 L7.67 -28.68 L9.78 -26.88 L11.74 -24.63 L13.51 -21.95 L15.06 -18.9 L16.37 -15.52 L17.41 -11.88 L18.17 -8.03 L18.63 -4.05 L18.78 -0 L18.63 4.05 L18.17 8.03 L17.41 11.88 L16.37 15.52 L15.06 18.9 L13.51 21.95 L11.74 24.63 L9.78 26.88 L7.67 28.68 L5.44 29.98 L3.13 30.77 L0.78 31.04 L-1.57 30.77 L-3.88 29.98 L-6.11 28.68 L-8.23 26.88 L-10.18 24.63 L-11.95 21.95 L-13.51 18.9 L-14.82 15.52 L-15.86 11.88 L-16.61 8.03 L-17.07 4.05 L-17.23 0 L-17.07 -4.05 L-16.61 -8.03 L-15.86 -11.88 L-14.82 -15.52 L-13.51 -18.9 L-11.95 -21.95 L-10.18 -24.63 L-8.23 -26.88 L-6.11 -28.68 L-3.88 -29.98 L-1.57 -30.77 L0.78 -31.04Z" fill="url(#gRingD)" fill-rule="evenodd"/><path d="M4.66 -36.86 L7.45 -36.54 L10.19 -35.6 L12.84 -34.05 L15.35 -31.92 L17.67 -29.24 L19.77 -26.06 L21.62 -22.44 L23.17 -18.43 L24.41 -14.11 L25.31 -9.54 L25.85 -4.81 L26.03 -0 L25.85 4.81 L25.31 9.54 L24.41 14.11 L23.17 18.43 L21.62 22.44 L19.77 26.06 L17.67 29.24 L15.35 31.92 L12.84 34.05 L10.19 35.6 L7.45 36.54 L4.66 36.86 L1.87 36.54 L-0.88 35.6 L-3.53 34.05 L-6.03 31.92 L-8.36 29.24 L-10.46 26.06 L-12.3 22.44 L-13.86 18.43 L-15.1 14.11 L-15.99 9.54 L-16.54 4.81 L-16.72 0 L-16.54 -4.81 L-15.99 -9.54 L-15.1 -14.11 L-13.86 -18.43 L-12.3 -22.44 L-10.46 -26.06 L-8.36 -29.24 L-6.03 -31.92 L-3.53 -34.05 L-0.88 -35.6 L1.87 -36.54 L4.66 -36.86Z M1.94 -33.76 L4.5 -33.47 L7.01 -32.61 L9.43 -31.19 L11.73 -29.23 L13.86 -26.78 L15.78 -23.87 L17.47 -20.55 L18.9 -16.88 L20.03 -12.92 L20.85 -8.74 L21.35 -4.41 L21.52 -0 L21.35 4.41 L20.85 8.74 L20.03 12.92 L18.9 16.88 L17.47 20.55 L15.78 23.87 L13.86 26.78 L11.73 29.23 L9.43 31.19 L7.01 32.61 L4.5 33.47 L1.94 33.76 L-0.62 33.47 L-3.13 32.61 L-5.55 31.19 L-7.85 29.23 L-9.98 26.78 L-11.9 23.87 L-13.59 20.55 L-15.02 16.88 L-16.15 12.92 L-16.97 8.74 L-17.47 4.41 L-17.64 0 L-17.47 -4.41 L-16.97 -8.74 L-16.15 -12.92 L-15.02 -16.88 L-13.59 -20.55 L-11.9 -23.87 L-9.98 -26.78 L-7.85 -29.23 L-5.55 -31.19 L-3.13 -32.61 L-0.62 -33.47 L1.94 -33.76Z" fill="#fff" fill-opacity="0.25" fill-rule="evenodd"/></g><path d="M122.46 49.14 L-1.1 38.75 L-3.54 38.32 L-5.93 37.43 L-8.25 36.1 L-10.47 34.35 L-12.57 32.19 L-14.52 29.65 L-16.3 26.75 L-17.89 23.55 L-19.26 20.06 L-20.41 16.34 L-21.32 12.43 L-21.97 8.37 L-22.37 4.21 L-22.5 0 L-22.37 -4.21 L-21.97 -8.37 L-21.32 -12.43 L-20.41 -16.34 L-19.26 -20.06 L-17.89 -23.55 L-16.3 -26.75 L-14.52 -29.65 L-12.57 -32.19 L-10.47 -34.35 L-8.25 -36.1 L-5.93 -37.43 L-3.54 -38.32 L-1.1 -38.75 L122.46 -49.14" fill="none" stroke="#000" stroke-width="1.6" stroke-linejoin="round" stroke-linecap="round"/><path d="M122.46 -49.14 L123.74 -49.09 L125.01 -48.38 L126.25 -47.03 L127.45 -45.05 L128.59 -42.46 L129.66 -39.31 L130.63 -35.63 L131.51 -31.48 L132.27 -26.9 L132.91 -21.97 L133.41 -16.74 L133.77 -11.28 L134 -5.68 L134.07 -0 L134 5.68 L133.77 11.28 L133.41 16.74 L132.91 21.97 L132.27 26.9 L131.51 31.48 L130.63 35.63 L129.66 39.31 L128.59 42.46 L127.45 45.05 L126.25 47.03 L125.01 48.38 L123.74 49.09 L122.46 49.14" fill="none" stroke="#000" stroke-width="1.36" stroke-dasharray="3.4 2.4"/><ellipse cx="-8.5" cy="-4.6" rx="11.76" ry="14.7" fill="url(#gHoleShD)"/><ellipse cx="-3.1" cy="0.8" rx="8.4" ry="15" fill="url(#gHoleD)"/><clipPath id="cHD"><ellipse cx="-3.1" cy="0.8" rx="8.4" ry="15"/></clipPath><ellipse cx="-0.16" cy="12.8" rx="7.56" ry="6.3" fill="url(#gHoleInD)" clip-path="url(#cHD)"/><path d="M-5.7 -13.47 L-4.72 -13.92 L-3.73 -14.16 L-2.72 -14.18 L-1.72 -14 L-0.74 -13.6 L0.2 -12.99 L1.1 -12.19 L1.94 -11.2 L2.7 -10.04 L3.39 -8.73 L3.98 -7.28 L4.47 -5.71 L4.85 -4.05 L5.12 -2.32 L5.27 -0.54 L5.3 1.25 L5.21 3.04 L5 4.79 L4.67 6.49 L4.24 8.1 L3.7 9.62 L3.06 11 L2.33 12.24 L1.53 13.32 L0.66 14.22 L-0.27 14.92 L-1.23 15.42 L-2.22 15.72" fill="none" stroke="#000" stroke-width="1.2" stroke-linecap="round"/><path d="M0.45 -12.79 L1.03 -12.26 L1.59 -11.65 L2.12 -10.96 L2.61 -10.2 L3.08 -9.37 L3.5 -8.48 L3.88 -7.53 L4.23 -6.54 L4.52 -5.5 L4.78 -4.42 L4.98 -3.31 L5.13 -2.17 L5.24 -1.02 L5.29 0.15 L5.3 1.31 L5.25 2.48 L5.15 3.63 L5 4.77 L4.8 5.89 L4.56 6.97 L4.26 8.01 L3.93 9.02 L3.55 9.97 L3.13 10.86 L2.67 11.7 L2.18 12.47 L1.65 13.17 L1.1 13.79" fill="none" stroke="#000" stroke-width="2.08" stroke-linecap="round"/><path d="M-3.83 15.74 L-4.58 15.56 L-5.32 15.26 L-6.05 14.85 L-6.74 14.31 L-7.41 13.67 L-8.05 12.92 L-8.64 12.08 L-9.19 11.14 L-9.68 10.12 L-10.13 9.02 L-10.51 7.85 L-10.84 6.63 L-11.1 5.36 L-11.3 4.05 L-11.43 2.71 L-11.49 1.36 L-11.49 0.01 L-11.41 -1.34 L-11.27 -2.67 L-11.06 -3.98 L-10.79 -5.24 L-10.45 -6.46 L-10.06 -7.61 L-9.6 -8.7 L-9.09 -9.71 L-8.54 -10.63 L-7.94 -11.46 L-7.3 -12.19" fill="none" stroke="#d6d6d6" stroke-width="0.64" stroke-linecap="round"/></g>
<g fill="none" stroke="#000" stroke-width="1.3"><path d="M120.9 83.3 L205 227.5"/><path d="M243.75 297.5 L271.3 343.8"/><path d="M205 227.5 L243.75 297.5"/><path d="M61.25 154.5 L142.5 292.5 L157.5 318.75 L184.8 366"/><path d="M189.5 238 L237.5 210.5"/><path d="M228.25 305.5 L276.75 278"/><path d="M126.25 302 L243.75 234.5"/><path d="M141.25 328 L257.5 261.25"/></g><path d="M205 227.5 L186.13 207.22 L196.87 201.02 Z" fill="#000"/><path d="M243.75 297.5 L262.62 317.78 L251.88 323.98 Z" fill="#000"/><path d="M142.5 292.5 L123.63 272.22 L134.37 266.02 Z" fill="#000"/><path d="M157.5 318.75 L176.37 339.03 L165.63 345.23 Z" fill="#000"/><g transform="translate(120.9 83.3) rotate(60)" font-family="'Liberation Sans', sans-serif" font-style="italic" font-size="31" fill="#000" stroke="#000" stroke-width="0.35"><circle cx="44.6" cy="-17.9" r="9.6" fill="none" stroke="#000" stroke-width="1.1"/><path d="M38.79 -3.53 L50.41 -32.27" stroke="#000" stroke-width="1.1"/><text x="62.5" y="-7.3">2.7</text><text x="2.5" y="27">(</text><circle cx="27.3" cy="16.8" r="9.6" fill="none" stroke="#000" stroke-width="1.1"/><path d="M21.49 31.17 L33.11 2.43" stroke="#000" stroke-width="1.1"/><text x="45.4" y="27">0.</text><path d="M763 0H583V1147Q518 1085 412.5 1023T223 930V1104Q374 1175 487 1276T647 1472H763Z" transform="translate(71.25 27) scale(0.01514 -0.01461) skewX(12)" fill="#000"/><text x="88.49" y="27">06)</text></g><g transform="translate(61.25 154.5) rotate(59.6)" font-family="'Liberation Sans', sans-serif" font-style="italic" font-size="31" fill="#000" stroke="#000" stroke-width="0.35"><circle cx="56.7" cy="-18.5" r="9.6" fill="none" stroke="#000" stroke-width="1.1"/><path d="M50.89 -4.13 L62.51 -32.87" stroke="#000" stroke-width="1.1"/><path d="M763 0H583V1147Q518 1085 412.5 1023T223 930V1104Q374 1175 487 1276T647 1472H763Z" transform="translate(73.6 -7.3) scale(0.01514 -0.01461) skewX(12)" fill="#000"/><text x="2.5" y="27">(</text><circle cx="26.8" cy="16.6" r="9.6" fill="none" stroke="#000" stroke-width="1.1"/><path d="M20.99 30.97 L32.61 2.23" stroke="#000" stroke-width="1.1"/><text x="45.4" y="27">0.039)</text></g>
<g font-family="'Liberation Sans', sans-serif" font-style="italic" font-size="31" fill="#000" stroke="#000" stroke-width="0.3"><ellipse cx="583.3" cy="410.8" rx="9.6" ry="9.2" fill="none" stroke="#000" stroke-width="1.2" transform="rotate(-20 583.3 410.8)"/><path d="M577.3 423.5 L589.5 396.5" stroke="#000" stroke-width="1.2"/><text x="602" y="420">max. pin =</text><text x="771" y="404.3">0.8</text><text x="741.5" y="437" font-size="32">(0.032)</text><text x="812.6" y="550.3" font-size="32">mm</text><text x="813.6" y="581.3" font-size="32">(in)</text></g><path d="M749 409.3 H836" stroke="#777" stroke-width="1.6"/><path d="M808.7 554.9 H863.3" stroke="#777" stroke-width="1.8"/>
<path d="M429 496.6 H702.5 L705 498.5 V521.5 L702.5 523.4 H429 Z" fill="url(#sShaft)" stroke="#000" stroke-width="1.2" stroke-linejoin="round"/><path d="M702.3 497 V523" stroke="#555" stroke-width="0.8"/><path d="M419 492.2 H426 Q428.6 492.6 428.6 496 V524.6 Q428.6 528 426 528.6 H419 Z" fill="url(#sNeck)" stroke="#000" stroke-width="1.1"/><path d="M367.7 483.5 L372.2 482.8 L375.2 482.8 L380 490.5 L383.8 482.8 L386.8 482.8 L391.6 490.5 L395.4 482.8 L398.4 482.8 L403.2 490.5 L407 482.8 L410 482.8 L419.5 489 L419.5 531 L419.5 533.5 L416.5 538.4 L414.1 538.4 L409.5 531.2 L404.9 538.4 L402.5 538.4 L397.9 531.2 L393.3 538.4 L390.9 538.4 L386.3 531.2 L381.7 538.4 L379.3 538.4 L374.5 531.2 L370 538 L367.7 538Z" fill="url(#sThread)" stroke="#222" stroke-width="1" stroke-linejoin="round"/><clipPath id="cTh"><path d="M367.7 483.5 L372.2 482.8 L375.2 482.8 L380 490.5 L383.8 482.8 L386.8 482.8 L391.6 490.5 L395.4 482.8 L398.4 482.8 L403.2 490.5 L407 482.8 L410 482.8 L419.5 489 L419.5 531 L419.5 533.5 L416.5 538.4 L414.1 538.4 L409.5 531.2 L404.9 538.4 L402.5 538.4 L397.9 531.2 L393.3 538.4 L390.9 538.4 L386.3 531.2 L381.7 538.4 L379.3 538.4 L374.5 531.2 L370 538 L367.7 538Z"/></clipPath><g clip-path="url(#cTh)"><path d="M371 486 L377.5 535 M382.6 486 L389.1 535 M394.2 486 L400.7 535 M405.8 486 L412.3 535 M417.4 486 L423.9 535 " stroke="#d0d0d0" stroke-width="1.5" fill="none" opacity="0.85"/><path d="M366 484 L373 537 M377.6 484 L384.6 537 M389.2 484 L396.2 537 M400.8 484 L407.8 537 M412.4 484 L419.4 537 M424 484 L431 537 " stroke="#444" stroke-width="1.6" fill="none" opacity="0.55"/></g><rect x="356.5" y="483" width="11.2" height="55.2" fill="url(#sNeck)" stroke="#000" stroke-width="1"/><path d="M325 474 H356.6 V546.3 H325 Z" fill="url(#sBody)"/><clipPath id="cFl"><path d="M292.2 491.4 L325 474 V546.3 L292.2 528.9 Z"/></clipPath><g clip-path="url(#cFl)"><rect x="292.2" y="-36.2" width="33.1" height="72.4" fill="url(#sFl)" transform="translate(0 510.15) scale(1 0.5253)"/><rect x="293.2" y="-36.2" width="32.1" height="72.4" fill="url(#sFl)" transform="translate(0 510.15) scale(1 0.5399)"/><rect x="294.2" y="-36.2" width="31.1" height="72.4" fill="url(#sFl)" transform="translate(0 510.15) scale(1 0.5546)"/><rect x="295.2" y="-36.2" width="30.1" height="72.4" fill="url(#sFl)" transform="translate(0 510.15) scale(1 0.5692)"/><rect x="296.2" y="-36.2" width="29.1" height="72.4" fill="url(#sFl)" transform="translate(0 510.15) scale(1 0.5839)"/><rect x="297.2" y="-36.2" width="28.1" height="72.4" fill="url(#sFl)" transform="translate(0 510.15) scale(1 0.5986)"/><rect x="298.2" y="-36.2" width="27.1" height="72.4" fill="url(#sFl)" transform="translate(0 510.15) scale(1 0.6132)"/><rect x="299.2" y="-36.2" width="26.1" height="72.4" fill="url(#sFl)" transform="translate(0 510.15) scale(1 0.6279)"/><rect x="300.2" y="-36.2" width="25.1" height="72.4" fill="url(#sFl)" transform="translate(0 510.15) scale(1 0.6425)"/><rect x="301.2" y="-36.2" width="24.1" height="72.4" fill="url(#sFl)" transform="translate(0 510.15) scale(1 0.6572)"/><rect x="302.2" y="-36.2" width="23.1" height="72.4" fill="url(#sFl)" transform="translate(0 510.15) scale(1 0.6718)"/><rect x="303.2" y="-36.2" width="22.1" height="72.4" fill="url(#sFl)" transform="translate(0 510.15) scale(1 0.6865)"/><rect x="304.2" y="-36.2" width="21.1" height="72.4" fill="url(#sFl)" transform="translate(0 510.15) scale(1 0.7011)"/><rect x="305.2" y="-36.2" width="20.1" height="72.4" fill="url(#sFl)" transform="translate(0 510.15) scale(1 0.7158)"/><rect x="306.2" y="-36.2" width="19.1" height="72.4" fill="url(#sFl)" transform="translate(0 510.15) scale(1 0.7304)"/><rect x="307.2" y="-36.2" width="18.1" height="72.4" fill="url(#sFl)" transform="translate(0 510.15) scale(1 0.7451)"/><rect x="308.2" y="-36.2" width="17.1" height="72.4" fill="url(#sFl)" transform="translate(0 510.15) scale(1 0.7598)"/><rect x="309.2" y="-36.2" width="16.1" height="72.4" fill="url(#sFl)" transform="translate(0 510.15) scale(1 0.7744)"/><rect x="310.2" y="-36.2" width="15.1" height="72.4" fill="url(#sFl)" transform="translate(0 510.15) scale(1 0.7891)"/><rect x="311.2" y="-36.2" width="14.1" height="72.4" fill="url(#sFl)" transform="translate(0 510.15) scale(1 0.8037)"/><rect x="312.2" y="-36.2" width="13.1" height="72.4" fill="url(#sFl)" transform="translate(0 510.15) scale(1 0.8184)"/><rect x="313.2" y="-36.2" width="12.1" height="72.4" fill="url(#sFl)" transform="translate(0 510.15) scale(1 0.8330)"/><rect x="314.2" y="-36.2" width="11.1" height="72.4" fill="url(#sFl)" transform="translate(0 510.15) scale(1 0.8477)"/><rect x="315.2" y="-36.2" width="10.1" height="72.4" fill="url(#sFl)" transform="translate(0 510.15) scale(1 0.8623)"/><rect x="316.2" y="-36.2" width="9.1" height="72.4" fill="url(#sFl)" transform="translate(0 510.15) scale(1 0.8770)"/><rect x="317.2" y="-36.2" width="8.1" height="72.4" fill="url(#sFl)" transform="translate(0 510.15) scale(1 0.8916)"/><rect x="318.2" y="-36.2" width="7.1" height="72.4" fill="url(#sFl)" transform="translate(0 510.15) scale(1 0.9063)"/><rect x="319.2" y="-36.2" width="6.1" height="72.4" fill="url(#sFl)" transform="translate(0 510.15) scale(1 0.9210)"/><rect x="320.2" y="-36.2" width="5.1" height="72.4" fill="url(#sFl)" transform="translate(0 510.15) scale(1 0.9356)"/><rect x="321.2" y="-36.2" width="4.1" height="72.4" fill="url(#sFl)" transform="translate(0 510.15) scale(1 0.9503)"/><rect x="322.2" y="-36.2" width="3.1" height="72.4" fill="url(#sFl)" transform="translate(0 510.15) scale(1 0.9649)"/><rect x="323.2" y="-36.2" width="2.1" height="72.4" fill="url(#sFl)" transform="translate(0 510.15) scale(1 0.9796)"/><rect x="324.2" y="-36.2" width="1.1" height="72.4" fill="url(#sFl)" transform="translate(0 510.15) scale(1 0.9928)"/></g><path d="M292.2 491.4 L325 474 H356.6 V546.3 H325 L292.2 528.9 Z" fill="none" stroke="#000" stroke-width="1.3" stroke-linejoin="round"/><path d="M325 474 V546.3" stroke="#000" stroke-width="1.1"/><path d="M347.8 491.6 H325 Q314.6 501 314.8 510 Q314.6 519 325 528.8 H347.8 Z" fill="#e2e2e2" stroke="#000" stroke-width="1.2" stroke-linejoin="round"/><path d="M240.3 494.3 L292.2 491.4 V528.9 L240.3 526 Z" fill="url(#sCone)"/><path d="M203.4 503 Q203.4 497.2 209 496.6 L240.3 494.3 V526 L209 523.2 Q203.4 522.8 203.4 517 Z" fill="url(#sWhite)"/><path d="M292.2 491.4 L209 496.6 Q203.4 497.2 203.4 503 V517 Q203.4 522.8 209 523.2 L292.2 528.9 Z" fill="none" stroke="#000" stroke-width="1.3" stroke-linejoin="round"/><text x="464.9" y="517.6" font-family="'Liberation Sans', sans-serif" font-size="23" fill="#000" stroke="#000" stroke-width="0.3">C560003</text><text x="592.7" y="515.3" font-family="'Liberation Sans', sans-serif" font-size="17.5" fill="#000">xxxxxx</text>
</svg>
</body></html>
